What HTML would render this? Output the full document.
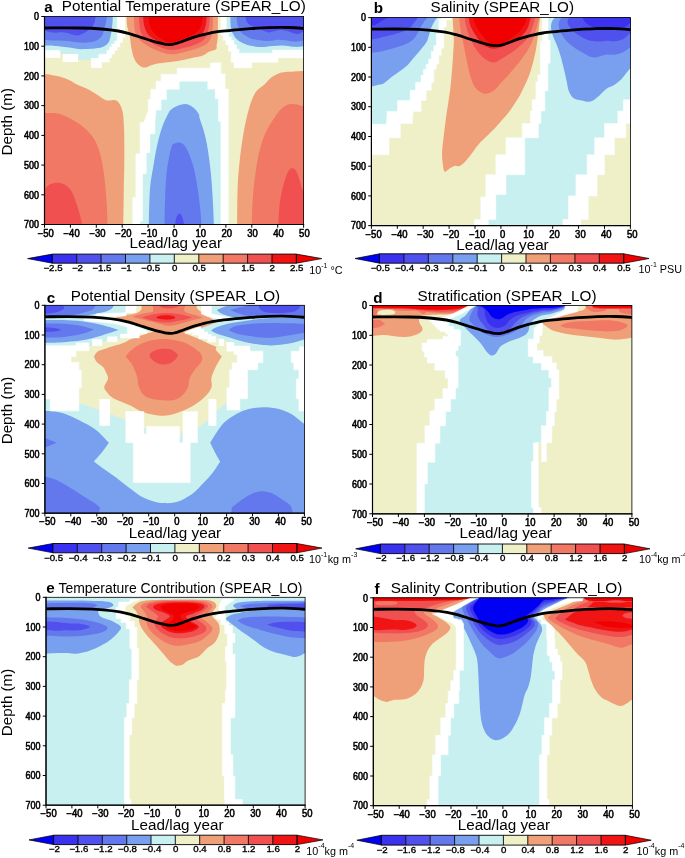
<!DOCTYPE html>
<html lang="en"><head><meta charset="utf-8"><title>SPEAR_LO lead/lag regressions</title>
<style>
html,body{margin:0;padding:0;background:#fff}
svg{display:block}
text{font-family:"Liberation Sans",Arial,Helvetica,sans-serif;fill:#000}
.tk{font-size:10px;stroke:#000;stroke-width:0.55px}
.ck{font-size:8.8px;stroke:#000;stroke-width:0.35px}
.tt{font-size:15.2px}
.lt{font-size:15.2px;font-weight:bold}
.un{font-size:10.8px}
.sup{font-size:7px}
</style></head><body>
<svg width="685" height="858" viewBox="0 0 685 858">
<rect width="685" height="858" fill="#fff"/>
<!-- panel a -->
<clipPath id="cpa"><rect x="44.5" y="16.5" width="259.1" height="208"/></clipPath>
<g clip-path="url(#cpa)" shape-rendering="geometricPrecision">
<rect x="44.5" y="16.5" width="259.1" height="208" fill="#f0f0c8"/>
<path fill="#f0a078" d="M42.7 74C43.1 74 43.2 73.9 44.6 74C46.1 74.2 48.9 74.4 51.5 74.9C54.1 75.4 57.4 75.9 60.3 76.8C63.3 77.6 66.4 78.7 69.1 79.9C71.8 81.2 74.6 83.2 76.6 84.3C78.7 85.4 79.8 85.7 81.7 86.6C83.5 87.4 85.4 88 87.9 89.3C90.5 90.6 94 92.7 96.7 94.4C99.5 96 102.2 98.3 104.3 99.4C106.4 100.4 107.6 100.5 109.3 100.6C111 100.7 112.8 99.8 114.3 100C115.8 100.2 116.9 100.7 118.1 101.9C119.2 103 120.4 104.8 121.2 106.9C122 109 122.7 111.6 123.1 114.4C123.5 117.3 123.6 119.7 123.8 123.8C124 127.8 124.3 132.1 124.3 138.8C124.4 145.4 124.4 155.4 124.3 163.7C124.3 172 124 178.5 123.8 188.7C123.7 198.8 123.4 216.8 123.3 224.3C123.3 231.8 123.3 232 123.3 233.6L41.5 233.6L42.7 74Z"/>
<path fill="#f07864" d="M41.5 113.1C42 113.1 41.8 112.9 44.7 113.1C47.7 113.2 54.3 112.6 59 113.8C63.7 115 68.8 117.8 72.9 120C77.1 122.3 80.4 124.4 83.9 127.5C87.4 130.6 91.2 134.4 93.9 138.8C96.6 143.1 98.5 147.9 100.1 153.7C101.8 159.5 102.8 166.2 103.9 173.7C104.9 181.2 105.8 190.2 106.4 198.6C107 207.1 107.4 218.5 107.6 224.3C107.8 230.2 107.6 232 107.6 233.6L41.5 233.6L41.5 113.1Z"/>
<path fill="#f05050" d="M41.5 188.7C42 188.7 43.3 189.4 44.7 188.7C46.2 187.9 48.1 185.2 50.2 184.2C52.4 183.2 55.2 182.5 57.7 182.7C60.2 182.8 62.9 183.5 65.2 184.9C67.5 186.3 69.6 188 71.4 191.1C73.3 194.3 75 199.5 76.4 203.6C77.9 207.8 79.3 212.6 80.2 216.1C81.1 219.5 81.6 221.4 81.9 224.3C82.2 227.2 81.9 232 81.9 233.6L41.5 233.6L41.5 188.7Z"/>
<path fill="#f0a078" d="M237.1 233.6C237.1 232 237 231.8 237.1 224.3C237.2 216.8 237.2 198.8 237.6 188.7C238 178.5 238.5 172 239.4 163.7C240.2 155.4 241.4 146.2 242.6 138.8C243.8 131.3 244.9 125 246.4 118.8C247.8 112.6 249.7 105.9 251.3 101.3C253 96.8 254.3 94 256.3 91.3C258.4 88.6 261.3 87.4 263.8 85.1C266.3 82.8 268.4 79.7 271.3 77.6C274.2 75.5 277.5 73.7 281.3 72.6C285 71.6 290.1 71.7 293.8 71.4C297.4 71.1 300.7 71 303.2 70.9C305.7 70.8 307.8 70.9 308.7 70.9L308.7 233.6L237.1 233.6Z"/>
<path fill="#f07864" d="M251.8 233.6C251.8 232 251.7 229.7 251.8 224.3C252 218.9 252.1 209.2 252.6 201.1C253.1 193.1 254 184.1 255.1 176.2C256.1 168.3 257.2 160.8 258.8 153.7C260.5 146.7 262.6 139.6 265.1 133.8C267.6 127.9 271.1 122.9 273.8 118.8C276.5 114.6 278.8 111.2 281.3 108.8C283.8 106.4 286.3 105.1 288.8 104.3C291.3 103.6 293.8 104 296.3 104.3C298.7 104.7 301.2 105.9 303.2 106.3C305.3 106.7 307.8 106.7 308.7 106.8L308.7 233.6L251.8 233.6Z"/>
<path fill="#f05050" d="M278.3 233.6C278.3 232 278 229.7 278.3 224.3C278.6 218.9 279.1 207.9 280 201.1C281 194.3 282.4 188.7 283.8 183.7C285.2 178.7 286.8 173.8 288.3 171.2C289.7 168.6 291.2 168.2 292.5 168.2C293.8 168.2 295 169 296.3 171.2C297.5 173.3 298.8 177.8 300 181.2C301.2 184.5 301.8 188.7 303.2 191.1C304.7 193.6 307.8 195.3 308.7 196.1L308.7 233.6L278.3 233.6Z"/>
<path fill="#f0a078" d="M126.5 14C126.5 14.4 126.4 14.2 126.5 16.3C126.6 18.4 126.7 23 127.2 26.6C127.8 30.2 129.4 34.7 130 37.9C130.6 41 130.5 42.5 131 45.4C131.5 48.3 132.3 52.6 133.1 55.4C134 58.3 134.9 60.5 136.3 62.3C137.6 64.2 139.6 65.9 141.3 66.7C143 67.6 144.8 67.6 146.3 67.4C147.9 67.1 148.8 66.1 150.7 65.5C152.6 64.8 154.8 64.1 157.6 63.6C160.4 63.1 164.3 62.8 167.7 62.3C171 61.9 174.6 61.6 177.7 61.1C180.8 60.6 183.6 59.8 186.5 59.2C189.4 58.6 192.6 57.9 195.3 57.3C198 56.7 200.5 56.4 202.8 55.4C205.1 54.5 206.9 52.7 209.1 51.7C211.3 50.6 214.7 50.3 216 49.2C217.3 48 216.4 46.4 216.6 44.8C216.9 43.3 217.3 42.7 217.5 39.7C217.8 36.7 217.9 30.7 217.9 26.8C218 22.9 217.9 18.5 217.9 16.3C217.9 14.2 217.9 14.4 217.9 14L126.5 14Z"/>
<path fill="#f07864" d="M134 14C134 14.4 134 14.2 134 16.3C134.1 18.4 134.1 23.6 134.4 26.6C134.7 29.5 134.9 32 135.6 34.1C136.4 36.2 137.4 37.5 138.8 39.1C140.1 40.7 141.7 42 143.8 43.5C145.9 45 148.6 46.5 151.3 47.9C154.1 49.3 157.4 50.7 160.1 51.7C162.9 52.7 165.2 53.5 167.7 53.9C170.2 54.3 172.5 54.4 175.2 54.2C177.9 53.9 181.1 53 184 52.3C186.9 51.6 190.1 50.6 192.8 49.8C195.5 48.9 198 48.2 200.3 47.3C202.6 46.3 204.9 45.5 206.6 44.1C208.3 42.8 209.4 41 210.4 39.1C211.3 37.2 211.8 35.3 212.2 32.8C212.7 30.3 212.8 26.8 212.9 24C213 21.3 212.9 17.9 212.9 16.3C212.9 14.6 212.9 14.4 212.9 14L134 14Z"/>
<path fill="#f05050" d="M139 14C139 14.4 139 14.6 139 16.3C139.1 17.9 139.1 21.5 139.4 24C139.7 26.6 139.9 29.4 140.7 31.6C141.4 33.8 142.5 35.7 143.8 37.2C145.2 38.8 146.9 39.7 148.8 41C150.7 42.2 152.8 43.6 155.1 44.8C157.4 45.9 160.1 47.1 162.6 47.9C165.2 48.7 167.7 49.5 170.2 49.8C172.7 50.1 175.2 49.9 177.7 49.5C180.2 49.2 182.7 48.3 185.2 47.6C187.8 47 190.3 46.3 192.8 45.4C195.3 44.5 198.2 43.5 200.3 42.2C202.4 41 204.1 39.6 205.3 37.9C206.6 36.1 207.2 33.9 207.8 31.6C208.5 29.3 209 26.6 209.3 24C209.7 21.5 209.7 17.9 209.7 16.3C209.8 14.6 209.7 14.4 209.7 14L139 14Z"/>
<path fill="#f01414" d="M143.2 14C143.2 14.4 143.1 14.6 143.2 16.3C143.3 17.9 143.4 21.7 143.8 24C144.2 26.4 144.9 28.4 145.7 30.3C146.5 32.2 147.5 33.9 148.8 35.3C150.2 36.8 152 38 153.9 39.1C155.7 40.3 157.8 41.3 160.1 42.2C162.4 43.1 165.6 44.1 167.7 44.5C169.8 44.9 170.6 44.9 172.7 44.8C174.8 44.6 177.7 44.1 180.2 43.5C182.7 42.9 185.2 41.9 187.8 41C190.3 40.1 193 39 195.3 37.9C197.6 36.7 200 35.6 201.6 34.1C203.1 32.6 203.9 31.2 204.7 29.1C205.5 27 206 23.7 206.3 21.5C206.6 19.4 206.5 17.5 206.6 16.3C206.6 15 206.6 14.4 206.6 14L143.2 14Z"/>
<path fill="#f00000" d="M148.8 14C148.8 14.4 148.8 15 148.8 16.3C148.9 17.5 148.8 19.6 149.1 21.5C149.4 23.5 149.9 25.9 150.7 27.8C151.5 29.7 152.5 31.3 153.9 32.8C155.2 34.4 157 35.9 158.9 37.2C160.8 38.6 163.3 40.1 165.2 41C167 41.9 168.5 42.5 170.2 42.6C171.8 42.8 173.1 42.5 175.2 41.9C177.3 41.3 180.2 40.1 182.7 39.1C185.2 38.1 188 37.1 190.3 36C192.6 34.8 194.9 33.6 196.5 32.2C198.2 30.8 199.4 29.6 200.3 27.8C201.2 26 201.8 23.5 202.2 21.5C202.6 19.6 202.7 17.5 202.8 16.3C202.9 15 202.8 14.4 202.8 14L148.8 14Z"/>
<path fill="#c8f0f0" d="M42.7 14L119.3 14L119.3 42.9L111.8 51.7L106.8 56.7L99.2 59.8L78.1 59.8L78.1 57.9L62.8 55.4L60.1 51.7L42.7 50.4Z"/>
<path fill="#78a0ee" d="M42.7 14L112.8 14C112.8 14.4 112.9 14.6 112.8 16.3C112.7 17.9 112.7 21.3 112.4 24C112.2 26.8 111.7 30 111.2 32.8C110.6 35.7 110.2 38.9 109.3 41C108.3 43.1 107.4 44.2 105.5 45.4C103.6 46.6 102 47.5 98 48.1C94 48.8 86.5 49.2 81.7 49.2C76.9 49.1 73.3 48.2 69.1 47.6C64.9 47.1 60.6 46.4 56.6 46C52.5 45.6 46.9 45.5 44.6 45.4C42.3 45.3 43.1 45.4 42.7 45.4L42.7 14Z"/>
<path fill="#6478ee" d="M42.7 14L106.8 14C106.8 14.4 106.9 15 106.8 16.3C106.7 17.5 106.6 19.4 106.1 21.5C105.7 23.7 104.9 26.8 104.3 29.1C103.6 31.4 103.4 33.6 102.4 35.3C101.3 37.1 99.8 38.6 98 39.7C96.2 40.8 94.8 41.4 91.7 41.9C88.6 42.4 83.3 42.8 79.2 42.6C75 42.5 70.8 41.3 66.6 41C62.4 40.7 57.7 40.8 54 40.6C50.4 40.5 46.5 40.2 44.6 40.1C42.7 40 43.1 40.1 42.7 40.1L42.7 14Z"/>
<path fill="#5050ee" d="M42.7 14L95.5 14C95.5 14.4 95.6 15 95.5 16.3C95.4 17.5 95.4 19.8 94.8 21.5C94.3 23.2 93.7 24.9 92.3 26.6C91 28.2 88.7 30.2 86.7 31.6C84.7 32.9 82.3 34.1 80.4 34.7C78.5 35.3 77.3 35.6 75.4 35.3C73.5 35.1 71.2 34 69.1 33.5C67 32.9 65.3 32.3 62.8 32.2C60.3 32.1 56.6 32.9 54 32.8C51.5 32.7 49.3 32 47.8 31.6C46.2 31.2 45.5 30.5 44.6 30.3C43.8 30.1 43.1 30.3 42.7 30.3L42.7 14Z"/>
<path fill="#ffffff" d="M44 50.2H60.1V57.7H44ZM62.8 53.9H78.1V62H62.8ZM91.1 57.9H101.4V67.7H91.1Z"/>
<path fill="#ffffff" stroke="#fff" stroke-width="0.5" d="M125 14L125 37.2L122.5 37.2L122.5 42.2L120 42.2L120 46.9L117.2 46.9L117.2 50.4L114.6 50.4L114.6 53.9L111.8 53.9L111.8 57.9L109.3 57.9L109.3 62L101.4 62L101.4 67.7L98.9 67.7L98.9 54.2L106.8 54.2L106.8 50.4L109.3 50.4L109.3 46.9L111.8 46.9L111.8 43.9L114.6 43.9L114.6 41L117.2 41L117.2 14Z"/>
<path fill="#c8f0f0" d="M226.3 14L305.9 14L305.9 51.3L272.5 51.3L272.5 53.8L239.1 53.8L236.6 50L234 45.5L231.2 41L228.6 37.8L226.3 33.3Z"/>
<path fill="#78a0ee" d="M230.4 14C230.4 14.4 230.3 14.2 230.4 16.3C230.5 18.5 230.4 24 230.8 26.8C231.2 29.7 231.7 31.2 232.7 33.3C233.7 35.3 234.8 37.4 236.6 39.1C238.3 40.7 240.4 42.1 243 43.3C245.5 44.5 248.8 45.5 252 46.1C255.2 46.8 258.8 47.1 262.2 47.1C265.7 47.1 269.1 46.4 272.5 46.1C276 45.8 279.4 45.4 282.8 45.5C286.2 45.6 290.3 46.5 293.1 46.8C295.9 47 297.4 47 299.5 46.8C301.6 46.5 304.9 45.7 305.9 45.5L305.9 14L230.4 14Z"/>
<path fill="#6478ee" d="M236.6 14C236.6 14.4 236.4 14.8 236.6 16.3C236.7 17.8 236.8 20.8 237.2 23C237.6 25.2 238.1 27.5 239.1 29.4C240.2 31.3 241.7 33.1 243.6 34.6C245.5 36.1 248 37.4 250.7 38.4C253.4 39.4 256.7 39.9 259.7 40.3C262.7 40.8 265.7 41.1 268.7 41C271.7 40.9 274.9 39.8 277.7 39.7C280.4 39.6 282.8 40 285.4 40.3C287.9 40.7 290.7 41.5 293.1 41.6C295.4 41.8 297.4 41.6 299.5 41.2C301.6 40.9 304.9 40 305.9 39.7L305.9 14L236.6 14Z"/>
<path fill="#5050ee" d="M245.5 14C245.5 14.4 245.4 15.2 245.5 16.3C245.7 17.4 245.7 19.1 246.2 20.4C246.7 21.8 247.6 23.2 248.8 24.3C249.9 25.3 251.7 26.2 253.3 26.8C254.9 27.5 256.7 27.5 258.4 28.1C260.1 28.8 261.8 30 263.5 30.7C265.2 31.4 267 32.3 268.7 32.4C270.4 32.5 271.9 31.7 273.8 31.3C275.7 31 277.9 30.1 280.2 30.1C282.6 30.1 285.8 30.8 287.9 31.3C290.1 31.9 291.4 32.8 293.1 33.3C294.8 33.7 296.6 34.1 298.2 33.9C299.8 33.7 301.4 32.7 302.7 32C304 31.2 305.4 29.8 305.9 29.4L305.9 14L245.5 14Z"/>
<path fill="#ffffff" stroke="#fff" stroke-width="0.5" d="M220.9 14L220.9 35.2L223.1 35.2L223.1 40.3L226 40.3L226 44.8L228.6 44.8L228.6 51.3L231.2 51.3L231.2 62.2L234 62.2L234 67.7L251.7 67.7L251.7 62.2L277.9 62.2L277.9 57.7L305.9 57.7L305.9 50L272.5 50L272.5 53.2L239.1 53.2L239.1 49.3L236.6 49.3L236.6 44.8L234 44.8L234 40.3L231.2 40.3L231.2 37.1L228.6 37.1L228.6 33.3L226.3 33.3L226.3 14Z"/>
<path fill="#c8f0f0" d="M132.6 233.6L132.6 197.4L135.8 197.4L135.8 153.7L140.1 153.7L140.1 122.5L143.8 122.5L148.2 110.4L148.2 99.4L150.7 99.4L150.7 89.3L156.1 89.3L156.1 81.2L161.1 81.2L161.1 74.3L177.1 74.3L177.1 68.2L210.4 68.2L210.4 63L220.9 62.7L220.9 73.9L225.1 73.9L225.1 88.9L228.4 88.9L228.4 233.6Z"/>
<path fill="#ffffff" stroke="#fff" stroke-width="0.5" d="M132.6 233.6L132.6 197.4L135.8 197.4L135.8 153.7L140.1 153.7L140.1 122.5L143.8 122.5L148.2 110.4L148.2 99.4L150.7 99.4L150.7 89.3L156.1 89.3L156.1 81.2L161.1 81.2L161.1 74.3L177.1 74.3L177.1 68.2L210.4 68.2L210.4 63L220.9 62.7L220.9 73.9L225.1 73.9L225.1 88.9L228.4 88.9L228.4 233.6L220.9 233.6L220.9 121.3L218.4 121.3L218.4 98.8L215.2 98.8L215.2 88.9L207.8 89.3L207.8 81.2L179.2 81.2L179.2 89.3L166.4 89.3L166.4 99.4L161.1 99.4L161.1 110L156.1 110L155 121.3L155 133.8L150 133.8L150 152.5L146.3 152.5L146.3 173.7L142.6 173.7L142.6 221.1L140.1 221.1L140.1 233.6Z"/>
<path fill="#78a0ee" d="M148.8 233.6C148.8 232 148.6 231.8 148.8 224.3C149 216.8 149.2 198.8 150 188.7C150.9 178.5 152.5 171.2 153.8 163.7C155 156.2 156.1 150 157.5 143.7C159 137.5 160.6 131.5 162.5 126.3C164.4 121.1 167.3 115.4 168.8 112.6C170.2 109.7 170.1 110.5 171.4 109.4C172.7 108.4 174.2 107.2 176.5 106.3C178.8 105.4 182.7 104.1 185.2 104.1C187.8 104.1 189.6 105.2 191.5 106.3C193.4 107.4 195.1 108.9 196.5 110.7C198 112.5 199.9 116 200.3 117C200.7 117.9 198.3 113.9 199 116.3C199.6 118.7 202.5 125.9 203.9 131.3C205.4 136.7 206.5 141.7 207.7 148.7C208.8 155.8 210.1 165.4 210.9 173.7C211.8 182 212.2 190.2 212.7 198.6C213.2 207.1 213.7 218.5 213.9 224.3C214.1 230.2 213.9 232 213.9 233.6L148.8 233.6Z"/>
<path fill="#6478ee" d="M164.5 233.6C164.5 232 164.4 229.7 164.5 224.3C164.6 218.9 164.7 209.2 165 201.1C165.3 193.1 165.6 183.2 166.3 176.2C166.9 169.1 167.8 163.7 168.8 158.7C169.7 153.7 170.9 148.7 171.7 146.2C172.6 143.7 172.8 144.4 174 143.7C175.2 143.1 177.3 142.3 179 142.5C180.7 142.7 182.3 143.1 184 145C185.6 146.9 187.3 149.8 189 153.7C190.6 157.7 192.5 162.9 194 168.7C195.4 174.5 196.7 182 197.7 188.7C198.7 195.3 199.6 202.7 200.2 208.6C200.8 214.6 201.2 220.2 201.4 224.3C201.7 228.5 201.4 232 201.4 233.6L164.5 233.6Z"/>
<path fill="#5050ee" d="M174.7 233.6C174.8 232 175 227 175.2 224.3C175.5 221.6 175.8 219.1 176.5 217.3C177.2 215.6 178.6 213.7 179.5 213.6C180.4 213.5 181.2 214.8 182 216.6C182.7 218.4 183.6 221.5 184 224.3C184.4 227.2 184.4 232 184.5 233.6L174.7 233.6Z"/>
<path fill="none" stroke="#000" stroke-width="2.8" stroke-linecap="butt" d="M41.9 28C48.4 28 70.8 27.8 80.8 28C90.7 28.2 95.2 28.5 101.5 29C107.8 29.5 113.6 30.2 118.3 31C123.1 31.8 126 32.7 130 33.8C134 34.9 138.4 36.5 142.6 37.9C146.8 39.2 151.8 40.8 155.1 41.8C158.5 42.8 160.7 43.2 162.6 43.6C164.6 44.1 165.5 44.2 166.8 44.4C168 44.5 169 44.6 170.2 44.5C171.3 44.5 172.3 44.5 173.5 44.2C174.8 43.9 176.1 43.5 177.7 43C179.2 42.5 180.2 42.1 182.7 41.2C185.2 40.3 188.9 38.8 192.7 37.6C196.5 36.4 201.5 35 205.4 34.1C209.3 33.2 211.7 32.6 216 31.9C220.3 31.3 225.4 30.9 231.1 30.3C236.7 29.7 243.7 29.1 250 28.6C256.3 28.2 262.5 27.8 268.9 27.6C275.2 27.4 281.8 27.3 288.1 27.5C294.3 27.7 303.2 28.5 306.2 28.7"/>
</g>
<rect x="44.5" y="16.5" width="259.1" height="208" fill="none" stroke="#000" stroke-width="0.8"/>
<path d="M44.5 16.5V224.5H303.6" fill="none" stroke="#000" stroke-width="1.2" stroke-linecap="square"/>
<path d="M44.5 224.5v3.2M70.4 224.5v3.2M96.3 224.5v3.2M122.2 224.5v3.2M148.1 224.5v3.2M174.1 224.5v3.2M200 224.5v3.2M225.9 224.5v3.2M251.8 224.5v3.2M277.7 224.5v3.2M303.6 224.5v3.2M44.5 16.5h-3.2M44.5 46.2h-3.2M44.5 75.9h-3.2M44.5 105.6h-3.2M44.5 135.4h-3.2M44.5 165.1h-3.2M44.5 194.8h-3.2M44.5 224.5h-3.2" stroke="#000" stroke-width="1" fill="none"/>
<text class="tk" transform="translate(45.7 236.7) scale(0.95 1)" text-anchor="middle">−50</text>
<text class="tk" transform="translate(71.6 236.7) scale(0.95 1)" text-anchor="middle">−40</text>
<text class="tk" transform="translate(97.5 236.7) scale(0.95 1)" text-anchor="middle">−30</text>
<text class="tk" transform="translate(123.4 236.7) scale(0.95 1)" text-anchor="middle">−20</text>
<text class="tk" transform="translate(149.3 236.7) scale(0.95 1)" text-anchor="middle">−10</text>
<text class="tk" transform="translate(174.8 236.7) scale(0.95 1)" text-anchor="middle">0</text>
<text class="tk" transform="translate(200.8 236.7) scale(0.95 1)" text-anchor="middle">10</text>
<text class="tk" transform="translate(226.7 236.7) scale(0.95 1)" text-anchor="middle">20</text>
<text class="tk" transform="translate(252.6 236.7) scale(0.95 1)" text-anchor="middle">30</text>
<text class="tk" transform="translate(278.5 236.7) scale(0.95 1)" text-anchor="middle">40</text>
<text class="tk" transform="translate(304.4 236.7) scale(0.95 1)" text-anchor="middle">50</text>
<text class="tk" transform="translate(39.1 20.2) scale(0.9 1)" text-anchor="end">0</text>
<text class="tk" transform="translate(39.1 49.9) scale(0.9 1)" text-anchor="end">100</text>
<text class="tk" transform="translate(39.1 79.6) scale(0.9 1)" text-anchor="end">200</text>
<text class="tk" transform="translate(39.1 109.3) scale(0.9 1)" text-anchor="end">300</text>
<text class="tk" transform="translate(39.1 139.1) scale(0.9 1)" text-anchor="end">400</text>
<text class="tk" transform="translate(39.1 168.8) scale(0.9 1)" text-anchor="end">500</text>
<text class="tk" transform="translate(39.1 198.5) scale(0.9 1)" text-anchor="end">600</text>
<text class="tk" transform="translate(39.1 228.2) scale(0.9 1)" text-anchor="end">700</text>
<text class="lt" x="44.3" y="11.5">a</text>
<text class="tt" x="61.8" y="11.2" textLength="244" lengthAdjust="spacingAndGlyphs">Potential Temperature (SPEAR_LO)</text>
<text class="tt" x="129.6" y="248.4" textLength="92.4" lengthAdjust="spacingAndGlyphs">Lead/lag year</text>
<text class="tt" transform="translate(12.3 121.8) rotate(-90)" x="-33.7" y="0" textLength="67.5" lengthAdjust="spacingAndGlyphs">Depth (m)</text>
<path d="M27.6 258.6L52.3 254.1V263.2Z" fill="#0000f2" stroke="#000" stroke-opacity="0.9" stroke-width="0.8" stroke-linejoin="miter"/>
<rect x="52.3" y="254.1" width="24.4" height="9.1" fill="#3a32ee"/>
<rect x="76.7" y="254.1" width="24.4" height="9.1" fill="#5050ee"/>
<rect x="101.1" y="254.1" width="24.4" height="9.1" fill="#6478ee"/>
<rect x="125.5" y="254.1" width="24.4" height="9.1" fill="#78a0ee"/>
<rect x="149.9" y="254.1" width="24.4" height="9.1" fill="#c8f0f0"/>
<rect x="174.3" y="254.1" width="24.4" height="9.1" fill="#f0f0c8"/>
<rect x="198.8" y="254.1" width="24.4" height="9.1" fill="#f0a078"/>
<rect x="223.2" y="254.1" width="24.4" height="9.1" fill="#f07864"/>
<rect x="247.6" y="254.1" width="24.4" height="9.1" fill="#f05050"/>
<rect x="272" y="254.1" width="24.4" height="9.1" fill="#f01414"/>
<path d="M321.8 258.6L296.4 254.1V263.2Z" fill="#f00000" stroke="#000" stroke-opacity="0.9" stroke-width="0.8" stroke-linejoin="miter"/>
<path d="M52.3 254.1H296.4M52.3 263.2H296.4M52.3 254.1V263.2M76.7 254.1V263.2M101.1 254.1V263.2M125.5 254.1V263.2M149.9 254.1V263.2M174.3 254.1V263.2M198.8 254.1V263.2M223.2 254.1V263.2M247.6 254.1V263.2M272 254.1V263.2M296.4 254.1V263.2" stroke="#000" stroke-width="0.9" fill="none"/>
<text class="ck" transform="translate(53 271) scale(1.1 1)" text-anchor="middle">−2.5</text>
<text class="ck" transform="translate(77.4 271) scale(1.1 1)" text-anchor="middle">−2</text>
<text class="ck" transform="translate(101.8 271) scale(1.1 1)" text-anchor="middle">−1.5</text>
<text class="ck" transform="translate(126.2 271) scale(1.1 1)" text-anchor="middle">−1</text>
<text class="ck" transform="translate(150.6 271) scale(1.1 1)" text-anchor="middle">−0.5</text>
<text class="ck" transform="translate(174.7 271) scale(1.1 1)" text-anchor="middle">0</text>
<text class="ck" transform="translate(199.1 271) scale(1.1 1)" text-anchor="middle">0.5</text>
<text class="ck" transform="translate(223.5 271) scale(1.1 1)" text-anchor="middle">1</text>
<text class="ck" transform="translate(247.9 271) scale(1.1 1)" text-anchor="middle">1.5</text>
<text class="ck" transform="translate(272.3 271) scale(1.1 1)" text-anchor="middle">2</text>
<text class="ck" transform="translate(296.7 271) scale(1.1 1)" text-anchor="middle">2.5</text>
<text class="un" x="309.2" y="274">10<tspan class="sup" dy="-6.3">-1</tspan><tspan dy="6.3"> °C</tspan></text>
<!-- panel b -->
<clipPath id="cpb"><rect x="371.4" y="17.6" width="259" height="208"/></clipPath>
<g clip-path="url(#cpb)" shape-rendering="geometricPrecision">
<rect x="371.4" y="17.6" width="259" height="208" fill="#f0f0c8"/>
<path fill="#c8f0f0" d="M369.7 15L451.4 15L451.4 20L446.3 20L446.3 26.9L443.8 26.9L443.8 48.3L441.3 48.3L441.3 55.2L438.8 55.2L438.8 64L436.3 64L436.3 69.2L433.8 69.2L433.8 82.2L431.3 82.2L431.3 90.3L426.2 90.3L426.2 100.4L421 100.4L421 111.4L413.1 111.4L412.2 123.5L400.4 123.5L400.4 137.8L389 137.8L389 154.7L368.5 154.7Z"/>
<path fill="#c8f0f0" d="M542.2 15L542.2 15L542.2 41.2L540.4 41.2L540.4 74.9L537.9 74.9L537.9 81.9L535.9 81.9L535.9 99.8L532.2 99.8L532.2 111.1L530.4 111.1L530.4 123.5L522.2 123.5L522.2 137.8L506 137.8L506 154.7L495.8 154.7L495.8 174.7L485.8 174.7L485.8 197.1L480.8 197.1L480.8 219.6L474.5 219.6L474.5 234.6L580.8 234.6L580.8 219.6L588.3 219.6L588.3 195.9L597.1 195.9L597.1 174.7L604.5 174.7L604.5 154.7L614.5 154.7L614.5 137.8L625.8 137.8L625.8 123.5L635.7 123.5L635.7 15Z"/>
<path fill="#78a0ee" d="M369.7 15L437.5 15C437.5 15.4 438 16.3 437.5 17.3C437.1 18.2 436 19.1 435 20.6C434.1 22.2 432.8 24.1 431.9 26.3C430.9 28.5 430.2 31.3 429.4 33.8C428.5 36.3 428.2 38.9 426.9 41.4C425.5 43.9 423.4 46.2 421.2 48.9C419 51.6 416 55 413.7 57.7C411.4 60.4 409.9 62.8 407.4 65.2C404.9 67.6 401.6 69.9 398.6 72.1C395.7 74.3 392.3 76.5 389.8 78.4C387.3 80.3 385.4 82.4 383.6 83.4C381.7 84.5 380.5 84.2 378.5 84.7C376.5 85.2 373.1 86.2 371.6 86.6C370.2 86.9 370.1 86.8 369.7 86.8L369.7 15Z"/>
<path fill="#6478ee" d="M369.7 15L428.1 15C428.1 15.4 428.6 16.3 428.1 17.3C427.6 18.2 426.1 19.1 425 20.6C423.8 22.2 422.4 24.3 421.2 26.3C420.1 28.3 419.1 30.7 418.1 32.6C417 34.5 416.3 36 414.9 37.6C413.6 39.2 412.2 40.6 409.9 42C407.6 43.4 404.3 44.6 401.1 45.8C398 46.9 394.4 48 391.1 48.9C387.7 49.8 384.3 50.8 381 51.4C377.8 52 373.5 52.5 371.6 52.7C369.7 52.9 370.1 52.7 369.7 52.7L369.7 15Z"/>
<path fill="#5050ee" d="M369.7 15L418.1 15C418.1 15.4 418.7 16 418.1 17.3C417.5 18.5 415.7 20.8 414.3 22.5C413 24.2 411.7 26.1 409.9 27.6C408.1 29 405.9 30.3 403.6 31.3C401.3 32.4 399 33 396.1 33.8C393.2 34.7 389 35.6 386.1 36.3C383.1 37.1 380.9 37.7 378.5 38.2C376.1 38.7 373.1 39.3 371.6 39.5C370.2 39.7 370.1 39.5 369.7 39.5L369.7 15Z"/>
<path fill="#3a32ee" d="M369.7 15L389.8 15C389.8 15.4 390.5 16.6 389.8 17.3C389.2 17.9 387.5 18.1 386.1 18.8C384.6 19.4 382.7 20.3 381 21.3C379.4 22.2 377.6 23.7 376 24.4C374.5 25.1 372.7 25.1 371.6 25.3C370.6 25.4 370.1 25.3 369.7 25.3L369.7 15Z"/>
<path fill="#78a0ee" d="M555.2 15C555.2 15.4 555.7 16.2 555.2 17.3C554.7 18.4 552.7 19.7 552 21.4C551.3 23.2 550.8 25.3 551 27.8C551.2 30.4 552.2 33.8 553.3 36.8C554.3 39.8 555.8 42.4 557.1 45.8C558.4 49.3 559.8 53.3 561 57.4C562.2 61.5 563.2 66.2 564.2 70.2C565.2 74.3 566 78.4 566.8 81.8C567.5 85.2 567.7 88.2 568.7 90.8C569.7 93.4 571 95.7 572.5 97.2C574 98.7 576 99.2 577.7 99.8C579.4 100.4 581.1 100.5 582.8 100.8C584.5 101.2 586.3 101.9 588 101.8C589.7 101.8 591.4 101.3 593.1 100.4C594.8 99.6 596.5 98.1 598.2 96.6C600 95.1 601.7 92.9 603.4 91.4C605.1 89.9 606.6 88.8 608.5 87.6C610.4 86.4 612.8 85.8 614.9 84.4C617.1 83 619.4 81.2 621.4 79.2C623.3 77.3 625 74.6 626.5 72.8C628 71 629.3 69.5 630.4 68.3C631.4 67.1 632.5 66.2 632.9 65.7L632.9 15L555.2 15Z"/>
<path fill="#6478ee" d="M562.3 15C562.3 15.4 562.8 16.2 562.3 17.3C561.7 18.4 559.6 19.7 559.1 21.4C558.5 23.2 558.5 25.5 559.1 27.8C559.6 30.2 560.7 33 562.3 35.6C563.9 38.1 566.3 41 568.7 43.3C571 45.5 573.8 47.3 576.4 49C579 50.8 581.8 52.3 584.1 53.5C586.5 54.8 588.6 56.1 590.5 56.8C592.5 57.4 594 57.5 595.7 57.4C597.4 57.3 598.9 56.6 600.8 56.1C602.7 55.6 605.1 54.8 607.2 54.6C609.4 54.4 611.5 55 613.7 54.8C615.8 54.7 618.2 54.2 620.1 53.5C622 52.9 623.5 52 625.2 51C626.9 49.9 629.1 48.1 630.4 47.1C631.6 46.2 632.5 45.5 632.9 45.2L632.9 15L562.3 15Z"/>
<path fill="#5050ee" d="M569.3 15C569.3 15.4 569.7 16.2 569.3 17.3C569 18.4 567.4 19.9 567.4 21.4C567.4 23 568.3 24.8 569.3 26.6C570.4 28.3 572 30.1 573.8 31.7C575.7 33.3 578.1 34.9 580.3 36.2C582.4 37.5 584.3 38.6 586.7 39.4C589 40.3 591.8 41 594.4 41.3C597 41.7 600 41.4 602.1 41.3C604.2 41.2 605.5 40.7 607.2 40.7C608.9 40.7 610.4 41.3 612.4 41.3C614.3 41.3 616.9 41.1 618.8 40.7C620.7 40.3 622.4 39.6 623.9 38.8C625.4 37.9 626.7 36.5 627.8 35.6C628.9 34.6 629.5 33.8 630.4 33C631.2 32.1 632.5 30.8 632.9 30.4L632.9 15L569.3 15Z"/>
<path fill="#3a32ee" d="M582.8 15C582.8 15.4 582.6 16.3 582.8 17.3C583 18.3 583.4 19.7 584.1 20.8C584.9 21.9 586 23 587.3 24C588.6 25 590.2 25.9 591.8 26.6C593.4 27.2 594.4 27.7 597 28.1C599.5 28.5 603.4 28.9 607.2 28.9C611.1 28.9 616.9 28.6 620.1 28.1C623.3 27.6 624.8 26.8 626.5 25.9C628.2 25 629.3 23.7 630.4 22.7C631.4 21.7 632.5 20.6 632.9 20.1L632.9 15L582.8 15Z"/>
<path fill="#f0a078" d="M452.6 15C452.6 15.4 452.5 15.2 452.6 17.3C452.7 19.4 453 23.7 453.2 27.6C453.4 31.4 453.9 35.9 453.9 40.1C453.9 44.3 453.5 48.5 453.2 52.7C453 56.8 452.7 61 452.4 65.2C452 69.4 451.7 73.6 451.4 77.8C451 82 450.6 86.1 450.1 90.3C449.6 94.5 448.8 98.7 448.2 102.9C447.6 107.1 447.1 110.1 446.3 115.4C445.6 120.8 444.6 128.6 443.9 134.8C443.2 140.9 442.3 147.2 442.1 152.2C441.9 157.2 442.4 161.5 442.9 164.7C443.3 167.9 443.5 171.1 444.6 171.7C445.7 172.3 447.9 169.4 449.6 168.4C451.3 167.5 452.9 166.4 454.6 165.9C456.2 165.5 457.9 166.6 459.6 165.9C461.2 165.3 462.7 164.1 464.6 162.2C466.4 160.3 468.5 157.6 470.8 154.7C473.1 151.8 475.4 148.1 478.3 144.7C481.2 141.4 485.4 137.7 488.3 134.8C491.2 131.8 493.7 129.4 495.8 127.3C497.8 125.1 498.4 124.1 500.3 122C502.2 119.8 505 116.9 507.2 114.2C509.4 111.4 511.4 108.5 513.5 105.4C515.6 102.3 517.9 98.7 519.8 95.4C521.7 92 523.2 88.7 524.8 85.3C526.4 82 527.9 78.6 529.2 75.3C530.4 71.9 531.4 68.6 532.3 65.2C533.3 61.9 534.1 58.5 534.8 55.2C535.6 51.8 536.2 48.5 536.7 45.1C537.2 41.8 537.6 38.4 538 35.1C538.4 31.7 538.9 28 539.2 25C539.6 22.1 540 18.9 540.1 17.3C540.3 15.6 540.1 15.4 540.1 15L452.6 15Z"/>
<path fill="#f07864" d="M459.3 15C459.3 15.4 459.1 15.2 459.3 17.3C459.4 19.4 459.6 23.7 460.1 27.6C460.7 31.4 461.8 35.9 462.6 40.1C463.5 44.3 464.3 48.5 465.2 52.7C466 56.8 466.7 61 467.7 65.2C468.6 69.4 469.7 74.2 470.8 77.8C472 81.3 473.1 84.3 474.6 86.6C476 88.9 477.8 90.4 479.6 91.6C481.4 92.8 483.4 93.7 485.2 93.8C487.1 93.9 489.1 93 490.9 92.2C492.7 91.4 494.2 90.6 495.9 89.1C497.6 87.5 499.1 84.9 500.9 82.8C502.8 80.7 505.1 78.8 507.2 76.5C509.3 74.2 511.4 71.5 513.5 69C515.6 66.5 517.7 64.2 519.8 61.5C521.9 58.7 524.2 55.6 526.1 52.7C527.9 49.7 529.6 47 531.1 43.9C532.5 40.7 533.8 37 534.8 33.8C535.9 30.7 536.6 27.8 537.4 25C538.1 22.3 538.9 18.9 539.2 17.3C539.5 15.6 539.2 15.4 539.2 15L459.3 15Z"/>
<path fill="#f05050" d="M464.8 15C464.8 15.4 464.6 15.6 464.8 17.3C465 18.9 465.2 22.3 465.8 25C466.4 27.8 467.3 30.9 468.3 33.8C469.3 36.8 470.6 39.8 472.1 42.6C473.5 45.4 475.4 48.5 477.1 50.8C478.8 53.1 480.4 54.9 482.1 56.4C483.8 58 485.4 59.2 487.1 60.2C488.9 61.2 491.1 62.2 492.8 62.5C494.5 62.7 495.6 62.1 497.2 61.5C498.7 60.8 500.3 59.5 502.2 58.3C504.1 57.2 506.4 55.9 508.5 54.5C510.6 53.2 512.7 51.7 514.8 50.2C516.8 48.6 519.1 46.8 521 45.1C522.9 43.5 524.6 42 526.1 40.1C527.5 38.2 528.8 35.9 529.8 33.8C530.9 31.7 531.6 29.6 532.3 27.6C533.1 25.5 533.7 23 534.2 21.3C534.7 19.6 535.3 18.3 535.5 17.3C535.7 16.2 535.5 15.4 535.5 15L464.8 15Z"/>
<path fill="#f01414" d="M468.9 15C468.9 15.4 468.7 15.6 468.9 17.3C469.1 18.9 469.3 22.5 470.2 25C471 27.6 472.5 30.1 473.9 32.6C475.4 35.1 477.2 37.9 479 40.1C480.7 42.3 482.8 44.5 484.6 45.8C486.4 47.1 488 47.4 489.6 47.9C491.3 48.4 492.8 48.8 494.7 48.6C496.5 48.5 498.8 47.7 500.9 47C503 46.3 505.1 45.4 507.2 44.5C509.3 43.6 511.4 42.5 513.5 41.4C515.6 40.2 517.9 39.1 519.8 37.6C521.7 36.1 523.4 34.3 524.8 32.6C526.2 30.9 527.1 29.4 527.9 27.6C528.8 25.7 529.3 23 529.8 21.3C530.3 19.6 530.9 18.3 531.1 17.3C531.3 16.2 531.1 15.4 531.1 15L468.9 15Z"/>
<path fill="#f00000" d="M473.3 15C473.3 15.4 473.1 16 473.3 17.3C473.5 18.5 473.8 20.6 474.6 22.5C475.3 24.5 476.5 26.7 477.7 28.8C479 30.9 480.5 33.1 482.1 35.1C483.7 37.1 485.5 39.3 487.1 40.7C488.8 42.2 490.5 43.2 492.2 43.9C493.8 44.6 495.5 45 497.2 44.9C498.8 44.8 500.3 44 502.2 43.2C504.1 42.5 506.4 41.4 508.5 40.1C510.6 38.9 512.9 37.2 514.8 35.7C516.6 34.3 518.3 32.9 519.8 31.3C521.2 29.8 522.5 28 523.5 26.3C524.5 24.6 525.3 22.8 525.8 21.3C526.3 19.8 526.5 18.3 526.7 17.3C526.8 16.2 526.7 15.4 526.7 15L473.3 15Z"/>
<path fill="#ffffff" stroke="#fff" stroke-width="0.5" d="M368.5 124.3L386.5 124.3L387.1 111.4L397.4 111.4L397.4 100.4L410.2 100.4L410.2 90.3L415.6 90.3L415.6 82.2L421 82.2L421 75.3L423.5 75.3L423.5 69.2L426.2 69.2L426.2 64L428.8 64L428.8 58.9L431.3 58.9L431.3 51.4L433.8 51.4L433.8 45.8L436.3 45.8L436.3 33.8L438.8 33.8L438.8 19.4L441.3 19.4L441.3 15L451.4 15L451.4 20L446.3 20L446.3 26.9L443.8 26.9L443.8 48.3L441.3 48.3L441.3 55.2L438.8 55.2L438.8 64L436.3 64L436.3 69.2L433.8 69.2L433.8 82.2L431.3 82.2L431.3 90.3L426.2 90.3L426.2 100.4L421 100.4L421 111.4L413.1 111.4L412.2 123.5L400.4 123.5L400.4 137.8L389 137.8L389 154.7L368.5 154.7Z"/>
<path fill="#ffffff" stroke="#fff" stroke-width="0.5" d="M548.1 15L548.1 40.1L550.1 40.1L550.1 63.2L547.9 63.2L547.9 90.8L544.9 90.8L544.9 110.7L540.9 111.1L540.9 123.5L538.4 123.5L538.4 137.8L524.7 137.8L524.7 174.7L506 174.7L506 194.6L495.8 194.6L495.8 219.6L488.3 219.6L488.3 234.6L474.5 234.6L474.5 219.6L480.8 219.6L480.8 197.1L485.8 197.1L485.8 174.7L495.8 174.7L495.8 154.7L506 154.7L506 137.8L522.2 137.8L522.2 123.5L530.4 123.5L530.4 111.1L532.2 111.1L532.2 99.8L535.9 99.8L535.9 81.9L537.9 81.9L537.9 74.9L540.4 74.9L540.4 41.2L542.2 41.2L542.2 15Z"/>
<path fill="#ffffff" stroke="#fff" stroke-width="0.5" d="M635.7 99.8L623.3 99.8L623.3 111.1L617.8 111.1L617.8 123.5L604.5 123.5L604.5 137.8L594.6 137.8L594.6 154.7L587.1 154.7L587.1 174.7L575.9 174.7L575.9 195.9L568.4 195.9L568.4 219.6L562.9 219.6L562.9 234.6L580.8 234.6L580.8 219.6L588.3 219.6L588.3 195.9L597.1 195.9L597.1 174.7L604.5 174.7L604.5 154.7L614.5 154.7L614.5 137.8L625.8 137.8L625.8 123.5L635.7 123.5Z"/>
<path fill="none" stroke="#000" stroke-width="2.8" stroke-linecap="butt" d="M368.8 29.1C375.3 29.1 397.7 28.9 407.7 29.1C417.6 29.3 422.1 29.6 428.4 30.1C434.6 30.6 440.5 31.3 445.2 32.1C450 32.9 452.8 33.8 456.9 34.9C460.9 36 465.2 37.6 469.4 39C473.6 40.3 478.6 41.9 482 42.9C485.3 43.9 487.6 44.3 489.5 44.8C491.4 45.2 492.4 45.3 493.6 45.5C494.9 45.6 495.9 45.7 497 45.7C498.1 45.6 499.1 45.6 500.4 45.3C501.6 45 503 44.6 504.5 44.1C506.1 43.6 507.1 43.2 509.6 42.3C512.1 41.4 515.8 39.9 519.5 38.7C523.3 37.5 528.4 36.1 532.2 35.2C536.1 34.3 538.6 33.7 542.9 33C547.1 32.4 552.2 32 557.9 31.4C563.5 30.8 570.5 30.2 576.8 29.7C583.1 29.3 589.3 28.9 595.7 28.7C602 28.5 608.6 28.4 614.9 28.6C621.1 28.8 630 29.6 633 29.8"/>
</g>
<rect x="371.4" y="17.6" width="259" height="208" fill="none" stroke="#000" stroke-width="0.8"/>
<path d="M371.4 17.6V225.6H630.4" fill="none" stroke="#000" stroke-width="1.2" stroke-linecap="square"/>
<path d="M371.4 225.6v3.2M397.3 225.6v3.2M423.2 225.6v3.2M449.1 225.6v3.2M475 225.6v3.2M500.9 225.6v3.2M526.8 225.6v3.2M552.7 225.6v3.2M578.6 225.6v3.2M604.5 225.6v3.2M630.4 225.6v3.2M371.4 17.6h-3.2M371.4 47.3h-3.2M371.4 77h-3.2M371.4 106.7h-3.2M371.4 136.5h-3.2M371.4 166.2h-3.2M371.4 195.9h-3.2M371.4 225.6h-3.2" stroke="#000" stroke-width="1" fill="none"/>
<text class="tk" transform="translate(373.6 237.8) scale(0.95 1)" text-anchor="middle">−50</text>
<text class="tk" transform="translate(399.5 237.8) scale(0.95 1)" text-anchor="middle">−40</text>
<text class="tk" transform="translate(425.4 237.8) scale(0.95 1)" text-anchor="middle">−30</text>
<text class="tk" transform="translate(451.3 237.8) scale(0.95 1)" text-anchor="middle">−20</text>
<text class="tk" transform="translate(477.2 237.8) scale(0.95 1)" text-anchor="middle">−10</text>
<text class="tk" transform="translate(502.7 237.8) scale(0.95 1)" text-anchor="middle">0</text>
<text class="tk" transform="translate(528.6 237.8) scale(0.95 1)" text-anchor="middle">10</text>
<text class="tk" transform="translate(554.5 237.8) scale(0.95 1)" text-anchor="middle">20</text>
<text class="tk" transform="translate(580.4 237.8) scale(0.95 1)" text-anchor="middle">30</text>
<text class="tk" transform="translate(606.3 237.8) scale(0.95 1)" text-anchor="middle">40</text>
<text class="tk" transform="translate(632.2 237.8) scale(0.95 1)" text-anchor="middle">50</text>
<text class="tk" transform="translate(366 21.3) scale(0.9 1)" text-anchor="end">0</text>
<text class="tk" transform="translate(366 51) scale(0.9 1)" text-anchor="end">100</text>
<text class="tk" transform="translate(366 80.7) scale(0.9 1)" text-anchor="end">200</text>
<text class="tk" transform="translate(366 110.4) scale(0.9 1)" text-anchor="end">300</text>
<text class="tk" transform="translate(366 140.2) scale(0.9 1)" text-anchor="end">400</text>
<text class="tk" transform="translate(366 169.9) scale(0.9 1)" text-anchor="end">500</text>
<text class="tk" transform="translate(366 199.6) scale(0.9 1)" text-anchor="end">600</text>
<text class="tk" transform="translate(366 229.3) scale(0.9 1)" text-anchor="end">700</text>
<text class="lt" x="373.8" y="12.9">b</text>
<text class="tt" x="430.5" y="12.3" textLength="143.5" lengthAdjust="spacingAndGlyphs">Salinity (SPEAR_LO)</text>
<text class="tt" x="456.3" y="249.5" textLength="92.4" lengthAdjust="spacingAndGlyphs">Lead/lag year</text>
<path d="M355 258.5L379.5 253.8V263.2Z" fill="#0000f2" stroke="#000" stroke-opacity="0.9" stroke-width="0.8" stroke-linejoin="miter"/>
<rect x="379.5" y="253.8" width="24.4" height="9.4" fill="#3a32ee"/>
<rect x="403.9" y="253.8" width="24.4" height="9.4" fill="#5050ee"/>
<rect x="428.3" y="253.8" width="24.4" height="9.4" fill="#6478ee"/>
<rect x="452.8" y="253.8" width="24.4" height="9.4" fill="#78a0ee"/>
<rect x="477.2" y="253.8" width="24.4" height="9.4" fill="#c8f0f0"/>
<rect x="501.6" y="253.8" width="24.4" height="9.4" fill="#f0f0c8"/>
<rect x="526" y="253.8" width="24.4" height="9.4" fill="#f0a078"/>
<rect x="550.4" y="253.8" width="24.4" height="9.4" fill="#f07864"/>
<rect x="574.9" y="253.8" width="24.4" height="9.4" fill="#f05050"/>
<rect x="599.3" y="253.8" width="24.4" height="9.4" fill="#f01414"/>
<path d="M649.1 258.5L623.7 253.8V263.2Z" fill="#f00000" stroke="#000" stroke-opacity="0.9" stroke-width="0.8" stroke-linejoin="miter"/>
<path d="M379.5 253.8H623.7M379.5 263.2H623.7M379.5 253.8V263.2M403.9 253.8V263.2M428.3 253.8V263.2M452.8 253.8V263.2M477.2 253.8V263.2M501.6 253.8V263.2M526 253.8V263.2M550.4 253.8V263.2M574.9 253.8V263.2M599.3 253.8V263.2M623.7 253.8V263.2" stroke="#000" stroke-width="0.9" fill="none"/>
<text class="ck" transform="translate(380.2 271) scale(1.1 1)" text-anchor="middle">−0.5</text>
<text class="ck" transform="translate(404.6 271) scale(1.1 1)" text-anchor="middle">−0.4</text>
<text class="ck" transform="translate(429 271) scale(1.1 1)" text-anchor="middle">−0.3</text>
<text class="ck" transform="translate(453.5 271) scale(1.1 1)" text-anchor="middle">−0.2</text>
<text class="ck" transform="translate(477.9 271) scale(1.1 1)" text-anchor="middle">−0.1</text>
<text class="ck" transform="translate(501.9 271) scale(1.1 1)" text-anchor="middle">0</text>
<text class="ck" transform="translate(526.3 271) scale(1.1 1)" text-anchor="middle">0.1</text>
<text class="ck" transform="translate(550.7 271) scale(1.1 1)" text-anchor="middle">0.2</text>
<text class="ck" transform="translate(575.2 271) scale(1.1 1)" text-anchor="middle">0.3</text>
<text class="ck" transform="translate(599.6 271) scale(1.1 1)" text-anchor="middle">0.4</text>
<text class="ck" transform="translate(624 271) scale(1.1 1)" text-anchor="middle">0.5</text>
<text class="un" x="638.6" y="273.2">10<tspan class="sup" dy="-6.3">-1</tspan><tspan dy="6.3"> PSU</tspan></text>
<!-- panel c -->
<clipPath id="cpc"><rect x="44.9" y="305.3" width="259.5" height="207.9"/></clipPath>
<g clip-path="url(#cpc)" shape-rendering="geometricPrecision">
<rect x="44.9" y="305.3" width="259.5" height="207.9" fill="#c8f0f0"/>
<path fill="#f0f0c8" d="M71 346.3L88.9 346.3L92.3 345.7L101.8 342.2L107.4 341.3L117.4 339.4L120.6 338.4L130 335.9L141.9 333.8L146.3 331.2L155.1 329.6L158.9 329.4L180.2 330L182.7 331.6L200.3 332.1L200.3 339.4L216 339.4L216 338.3L224 339L226.9 342.8L226.9 351.2L234 351.2L234 354.4L237.2 354.4L237.2 362.7L232.1 362.7L232.1 369.8L229.5 369.8L229.5 387.8L226.9 387.8L226.9 410L226.9 402.8L216.9 410.3L207.7 420.3L197.7 427.8L181.5 432.7L179.5 437.7L174 437.7L174 427.8L143.8 427.8L126.3 420.3L110.1 414L100.1 410.3L88.9 406.5L78.9 402.8L78.9 402.2L78.9 387.7L81.4 387.7L81.4 370.2L78.9 370.2L78.9 362.3L71 362.3Z"/>
<path fill="#f0f0c8" d="M135.6 303L202.2 303C202.3 304.3 201.5 308.2 202.8 310.5C204.2 312.8 207.8 314.9 210.4 316.8C212.9 318.7 216.6 321 217.9 321.8C211.6 323.7 190.1 331.4 180.2 333.1C170.4 334.9 170.8 335.1 158.9 332.5C146.9 329.9 117 319.9 108.7 317.4C110.1 317 113.9 315.2 117.4 314.6C121 313.9 127 314 130 313.3C133 312.6 134.7 312.2 135.6 310.5C136.6 308.8 135.6 304.3 135.6 303Z"/>
<path fill="#f0a078" d="M94 356.4C94.6 355.5 95.9 352.7 98 351.3C100.1 350 103.6 349.2 106.8 348.2C109.9 347.2 113.7 346.1 116.8 345.1C120 344 123.4 342.9 125.6 341.9C127.8 341 128 340.2 130 339.4C132 338.6 134.8 337.8 137.5 336.9C140.3 336 143.4 334.7 146.3 333.8C149.3 332.8 151.6 331.9 155.1 331.2C158.7 330.6 163.5 330.1 167.7 330C171.8 329.9 176.5 329.9 180.2 330.9C184 331.8 186.9 334.2 190.3 335.6C193.6 337.1 197.4 338.2 200.3 339.4C203.2 340.7 205.2 341.9 207.8 343.2C210.5 344.4 214.6 345.8 216 346.9C217.4 348.1 215 348.3 216 349.9C217 351.5 220.8 355.2 221.8 356.3C221.5 356.8 221.3 357.2 220.2 359.1C219.1 361.1 216.6 364.8 215.2 367.9C213.7 371 212 374.5 211.4 377.9C210.8 381.2 212.7 384.5 211.4 387.8C210.2 391.2 206.9 394.9 203.9 397.8C201 400.7 197.3 403.2 194 405.3C190.6 407.4 187.3 408.8 184 410.3C180.7 411.7 177.4 413.1 174 414C170.6 414.9 167.1 415.6 163.8 415.8C160.4 415.9 157.5 415.5 153.8 414.8C150 414.1 145.3 413.1 141.3 411.5C137.3 410 133.7 407.1 130 405.3C126.3 403.6 122.4 402.3 119.3 400.9C116.3 399.6 113.9 398.6 111.8 397.2C109.7 395.7 108 393.8 106.8 392.1C105.5 390.5 104.1 389.4 104.3 387.1C104.5 384.8 107.8 380.9 108 378.3C108.2 375.7 106.4 373.3 105.5 371.4C104.7 369.5 104.5 368.6 103 367C101.5 365.5 98.2 363.8 96.7 362C95.2 360.2 94.4 357.3 94 356.4Z"/>
<path fill="#f07864" d="M125.6 356.4C126.3 355.5 128 353.1 130 351.3C132 349.6 134.6 347.4 137.5 345.7C140.5 344 144 342.4 147.6 341.3C151.1 340.2 155.1 339.5 158.9 339.2C162.6 338.8 166.2 338.9 170.2 339.4C174.2 339.9 179 340.7 182.7 341.9C186.5 343.2 189.8 345.1 192.8 346.9C195.7 348.8 198.7 351.3 200.3 353.2C201.9 355.1 202.2 356.6 202.2 358.2C202.2 359.9 201.7 361.2 200.3 363.3C198.9 365.4 195.8 368.3 194 370.8C192.3 373.3 190.6 375.8 189.6 378.3C188.7 380.8 189.1 383.6 188.4 385.9C187.6 388.2 186.6 390.3 185.2 392.1C183.9 394 182.3 395.8 180.2 397.2C178.1 398.5 175.6 399.8 172.7 400.3C169.8 400.8 166 400.5 162.6 400.3C159.3 400.1 155.5 399.8 152.6 399C149.7 398.3 147.1 397.3 145.1 395.9C143.1 394.5 141.8 392.8 140.7 390.9C139.5 389 138.7 386.7 138.2 384.6C137.6 382.5 138.1 380.6 137.5 378.3C137 376 136.1 373.3 135 370.8C134 368.3 132.8 365.7 131.3 363.3C129.7 360.9 126.5 357.5 125.6 356.4Z"/>
<path fill="#f05050" d="M149.5 355.7C149.1 354 151.2 352.5 153.2 351.3C155.2 350.2 158.6 349.2 161.4 348.8C164.2 348.5 167.9 348.7 170.2 349.2C172.5 349.7 173.9 350.9 175.2 352C176.5 353.1 177.8 354.4 177.7 355.7C177.6 357.1 175.8 358.9 174.6 360.1C173.3 361.4 172.2 362.5 170.2 363.3C168.2 364 165.2 364.7 162.6 364.5C160.1 364.3 157.3 363.5 155.1 362C152.9 360.5 149.8 357.5 149.5 355.7Z"/>
<path fill="#f0a078" d="M109.3 315.6C111.1 315.5 116.5 315.1 120 314.9C123.4 314.8 127.3 314.9 130 314.6C132.7 314.2 134.4 313.8 136.3 313C138.1 312.3 140.2 311.2 141 309.9C141.9 308.6 141.5 306.4 141.6 305.3C141.6 304.1 141.6 303.4 141.6 303L196.5 303C196.5 303.4 196.3 304.2 196.5 305.3C196.8 306.3 196.3 307.8 197.8 309.3C199.3 310.8 202.8 312.6 205.3 314.3C207.8 316 210.8 318.1 212.9 319.3C215 320.6 217 321.4 217.9 321.8C213.7 323.3 200.7 328.5 192.8 330.6C184.8 332.7 177.5 334.8 170.2 334.4C162.9 334 155.5 330.2 148.8 328.1C142.1 326 135.2 323.5 130 321.8C124.8 320.2 120.9 319.1 117.4 318.1C114 317 110.6 316 109.3 315.6Z"/>
<path fill="#f07864" d="M131.9 316.6C133.7 316.1 139.2 314.4 142.6 313.7C145.9 312.9 150.2 312.8 152 312C153.7 311.3 153.1 310.4 153.2 309.3C153.3 308.1 152.7 306.3 152.6 305.3C152.5 304.2 152.6 303.4 152.6 303L185.2 303C185.2 303.4 185.4 304.1 185.2 305.3C185.1 306.4 184 308.7 184.2 309.9C184.4 311.1 184.7 311.6 186.5 312.4C188.3 313.3 192.6 314.1 195.3 314.9C198 315.8 201.6 317 202.8 317.4C201.6 317.8 198 318.8 195.3 319.6C192.6 320.3 190.7 321 186.5 322.1C182.3 323.1 175.4 325.8 170.2 325.8C164.9 325.9 159.7 323.5 155.1 322.5C150.5 321.4 146.4 320.6 142.6 319.6C138.7 318.6 133.7 317.1 131.9 316.6Z"/>
<path fill="#f05050" d="M141.9 317.4C144.1 316.9 150.8 314.8 155.1 314C159.4 313.3 163.5 313 167.7 313C171.8 313.1 176.1 313.6 180.2 314.3C184.3 315 190.2 316.9 192.1 317.4C190.2 318 184.3 319.7 180.2 320.6C176.1 321.4 171.8 322.4 167.7 322.5C163.5 322.6 159.4 322 155.1 321.2C150.8 320.4 144.1 318.1 141.9 317.4Z"/>
<path fill="#f05050" d="M158.9 303C158.9 303.4 158.2 304.5 158.9 305.3C159.5 306.1 161 307.2 162.6 307.8C164.3 308.3 166.8 308.6 168.9 308.6C171 308.6 173.5 308.3 175.2 307.8C176.9 307.2 178.3 306.1 179 305.3C179.6 304.5 179 303.4 179 303L158.9 303Z"/>
<path fill="#f01414" d="M156.4 317.4C156.6 316.9 159.5 315.9 161.4 315.6C163.3 315.2 165.8 315.1 167.7 315.2C169.5 315.2 171.4 315.6 172.7 315.9C173.9 316.3 175.2 316.9 175.2 317.4C175.2 318 174.2 318.7 172.7 319.1C171.2 319.4 168.5 319.7 166.4 319.7C164.3 319.7 161.8 319.4 160.1 319.1C158.5 318.7 156.2 318 156.4 317.4Z"/>
<path fill="#78a0ee" d="M41.5 410.8C42 410.8 41.8 410.5 44.7 410.8C47.7 411 54.5 411.3 59 412.3C63.4 413.2 67.3 414.8 71.4 416.5C75.6 418.3 79.8 420.5 83.9 422.8C88.1 425 92.2 426.9 96.4 430.2C100.6 433.6 106.8 440.6 108.9 442.7C107.8 444.2 105.1 448.3 102.6 451.5C100.1 454.6 95.4 459.8 93.9 461.4C95.6 462.7 100.1 466.2 103.9 468.9C107.6 471.6 112.2 474.5 116.4 477.7C120.5 480.8 124.7 484.5 128.8 487.6C133 490.7 137.1 494.1 141.3 496.4C145.5 498.7 150 500.2 153.8 501.4C157.5 502.5 160.4 502.9 163.8 503.1C167.1 503.3 170.6 503.3 174 502.6C177.4 501.9 180.7 500.5 184 498.9C187.3 497.2 190.6 495.3 194 492.6C197.3 489.9 200.8 486 203.9 482.6C207.1 479.3 210 476.2 212.7 472.7C215.4 469.1 218.9 463.3 220.2 461.4C219.3 460 216.8 455.8 215.2 452.7C213.5 449.6 211 444.4 210.2 442.7C211.2 441.1 214.1 436.1 216.4 432.7C218.7 429.4 220.6 425.9 223.9 422.8C227.2 419.6 232.2 416.3 236.4 414C240.5 411.7 244.3 410.2 248.9 409C253.4 407.9 258.8 407.3 263.8 407.3C268.8 407.3 274.2 407.9 278.8 409C283.4 410.2 287.5 411.9 291.3 414C295 416.1 298.3 419.2 301.2 421.5C304.2 423.8 307.5 426.7 308.7 427.8L308.7 522.6L41.5 522.6L41.5 410.8Z"/>
<path fill="#6478ee" d="M41.5 476.4C42 476.4 42.7 476 44.7 476.4C46.8 476.8 50.8 477.7 54 478.9C57.2 480.1 60.6 482 64 483.9C67.3 485.8 70.6 488 73.9 490.1C77.3 492.2 80.6 494.3 83.9 496.4C87.2 498.4 91.2 500.7 93.9 502.6C96.6 504.5 99.1 506.8 100.1 507.6C99.8 508.8 98.7 512.6 98.4 515.1C98.1 517.6 98.4 521.3 98.4 522.6L41.5 522.6L41.5 476.4Z"/>
<path fill="#6478ee" d="M41.5 436.5L44.7 437.7L56.5 442.7L44.7 447.7L41.5 449L41.5 436.5Z"/>
<path fill="#6478ee" d="M230.1 522.6L231.9 507.6C233.5 506.3 238.1 502.4 241.4 500.1C244.6 497.8 248.2 495.3 251.3 493.9C254.5 492.4 256.8 491.5 260.1 491.4C263.4 491.2 267.8 491.9 271.3 493.1C274.8 494.4 278.2 496.9 281.3 498.9C284.4 500.9 288.1 503 290 505.1C291.9 507.2 292.1 510.3 292.5 511.3L292.5 522.6L230.1 522.6Z"/>
<path fill="#78a0ee" d="M42.7 303L113.7 303C113.7 303.4 114 304.3 113.7 305.3C113.4 306.2 112.9 307.7 111.8 308.6C110.6 309.6 108.9 310.4 106.8 311.2C104.7 311.9 101.8 312.5 99.2 313C96.7 313.6 94.6 314.1 91.7 314.6C88.8 315 89.8 315.5 81.7 315.8C73.5 316.1 49.2 316.1 42.7 316.2L42.7 303Z"/>
<path fill="#6478ee" d="M42.7 303L95.5 303C95.5 303.4 95.9 304.2 95.5 305.3C95.1 306.3 94.4 308.2 93 309.3C91.5 310.4 89 311.1 86.7 311.8C84.4 312.5 82.1 313.1 79.2 313.7C76.2 314.2 75.2 314.8 69.1 315.2C63 315.5 47.1 315.7 42.7 315.8L42.7 303Z"/>
<path fill="#5050ee" d="M42.7 303L62.8 303C62.8 303.4 62.6 304.3 62.8 305.3C63 306.2 64.7 307.6 64.1 308.6C63.5 309.7 61.2 310.8 59.1 311.5C57 312.3 53.8 312.7 51.5 313C49.3 313.4 47 313.6 45.5 313.7C44 313.8 43.2 313.7 42.7 313.7L42.7 303Z"/>
<path fill="#78a0ee" d="M42.7 320.1C46.1 320.1 56.3 319.8 62.8 319.9C69.3 320.1 76 320.6 81.7 321.2C87.3 321.8 92.1 322.8 96.7 323.7C101.3 324.7 105.6 325.8 109.3 326.9C112.9 327.9 117.1 329.5 118.7 330C117.1 330.5 112.5 332.1 109.3 333.1C106 334.2 103 335.2 99.2 336.3C95.5 337.3 90.9 338.6 86.7 339.4C82.5 340.2 78.7 340.8 74.1 341.3C69.5 341.8 64.3 342.3 59.1 342.5C53.8 342.8 45.5 342.9 42.7 342.9L42.7 320.1Z"/>
<path fill="#6478ee" d="M42.7 323.7C46.1 323.7 56.8 323.4 62.8 323.7C68.9 324 74.8 324.9 79.2 325.6C83.5 326.3 86.8 327.4 89.2 328.1C91.6 328.8 92.9 329.5 93.6 329.7C92.4 330.2 89.5 331.6 86.7 332.5C83.9 333.4 80.4 334.3 76.6 335C72.9 335.7 67.9 336.5 64.1 336.9C60.3 337.3 57.6 337.5 54 337.5C50.5 337.6 44.6 337.2 42.7 337.1L42.7 323.7Z"/>
<path fill="#5050ee" d="M42.7 327.5C44.6 327.5 50.9 327.5 54 327.9C57.2 328.2 60.3 329.4 61.6 329.7C60.3 330.1 57.2 331.2 54 331.6C50.9 332 44.6 332 42.7 332.1L42.7 327.5Z"/>
<path fill="#78a0ee" d="M216.6 310.1C217.8 309.5 221.2 307.6 223.7 306.9C226.2 306.1 230.1 306 231.4 305.3C232.7 304.7 231.4 303.4 231.4 303L305.9 303L305.9 317.1C299.5 317.1 278.1 316.7 267.4 316.9C256.7 317.1 249 318.8 241.7 318.4C234.4 318 227.9 316 223.7 314.6C219.5 313.2 217.8 310.8 216.6 310.1Z"/>
<path fill="#6478ee" d="M230.1 310.1C231.6 309.6 235.9 308.3 239.1 307.5C242.3 306.7 247.7 306.1 249.4 305.3C251.1 304.6 249.4 303.4 249.4 303L305.9 303L305.9 315.8C299.5 315.8 277 315.8 267.4 315.8C257.8 315.8 253 316.3 248.1 315.8C243.2 315.4 240.8 314 237.8 313C234.8 312.1 231.4 310.6 230.1 310.1Z"/>
<path fill="#5050ee" d="M259 303C259 303.4 258.9 304.3 259 305.3C259.1 306.3 258.7 307.7 259.7 308.8C260.6 309.9 261.8 311.3 264.8 312C267.8 312.7 273.4 313 277.7 313C281.9 313.1 287.1 312.8 290.5 312.2C293.9 311.7 296.6 310.6 298.2 309.4C299.8 308.3 299.8 306.4 300.1 305.3C300.5 304.2 300.1 303.4 300.1 303L259 303Z"/>
<path fill="#78a0ee" d="M211 330.4C211.8 329.9 213 328.5 216 327.4C219 326.3 223.5 324.7 228.8 323.6C234.2 322.4 241.7 321.4 248.1 320.5C254.5 319.6 257.8 318.8 267.4 318.2C277 317.6 299.5 317.1 305.9 316.9L305.9 339C305.6 339.1 306.1 339 304 339.6C301.9 340.3 296.6 342 293.1 342.8C289.5 343.6 286.4 343.9 282.8 344.4C279.2 344.8 274.9 345.3 271.2 345.4C267.6 345.5 264.8 345.2 261 344.8C257.1 344.3 252.6 343.8 248.1 342.8C243.6 341.9 238.1 340.1 234 339C229.9 337.8 226.7 336.7 223.7 335.8C220.7 334.8 218.1 334.1 216 333.2C213.9 332.3 211.8 330.8 211 330.4Z"/>
<path fill="#6478ee" d="M228.6 330C229.7 329.3 232 327.1 235.3 326.1C238.5 325.2 242.8 324.7 248.1 324.2C253.5 323.7 259.9 323.1 267.4 322.9C274.9 322.8 286.7 323.1 293.1 323.3C299.5 323.5 303.8 324 305.9 324.2L305.9 332.5C304.6 332.8 301.4 333.3 298.2 333.8C295 334.4 290.7 335.1 286.7 335.8C282.6 336.4 278.1 337.4 273.8 337.7C269.5 338 265.2 337.8 261 337.4C256.7 337.1 252.4 336.5 248.1 335.8C243.8 335.1 238.5 334.2 235.3 333.2C232 332.2 229.7 330.5 228.6 330Z"/>
<path fill="#ffffff" stroke="#fff" stroke-width="0.5" d="M42.7 345.7L76 345.7L76 342.9L88.9 342.9L88.9 350.7L76 350.7L76 356.4L71 356.4L71 362.3L78.9 362.3L78.9 370.2L81.4 370.2L81.4 387.7L78.9 387.7L78.9 402.2L78.9 410.8L50.2 410.8L50.2 399.1L41.5 399.1Z"/>
<path fill="#ffffff" d="M92.3 339.4H101.8V345.7H92.3ZM99.9 399H109.9V411H99.9ZM125.6 303H136.3V313H125.6Z"/>
<path fill="#ffffff" d="M107.2 336.4H117.3V342H107.2ZM92.2 339.5H102.2V345.4H92.2Z"/>
<path fill="#ffffff" stroke="#fff" stroke-width="0.5" d="M84 318.2L100.3 319.1L115.4 320.7L127.9 323.8L136.7 327L146.8 330.7L146.8 333.6L139.2 333.6L139.2 337.9L120.4 337.9L120.4 334.1L127.3 334.1L127.3 327L115.4 323.8L100.3 321.9L84 320.7Z"/>
<path fill="#ffffff" stroke="#fff" stroke-width="0.5" d="M96.6 313.8L126.1 312.8L126.1 315.7L115.4 316.9L96.6 316Z"/>
<path fill="#ffffff" d="M99.4 399.1H110.1V425.8H99.4Z"/>
<path fill="#ffffff" stroke="#fff" stroke-width="0.5" d="M125.8 411.5L143.8 411.5L143.8 434L146.3 434L146.3 426.5L174 426.5L179.5 426.5L179.5 442.7L190.2 442.7L190.2 482.6L133.3 482.6L133.3 442.7L125.8 442.7Z"/>
<path fill="#ffffff" d="M182.7 411.5H197.7V442.7H182.7ZM208.4 399.1H216.4V425.8H208.4Z"/>
<path fill="#ffffff" stroke="#fff" stroke-width="0.5" d="M201.4 305L211.4 305L211.4 313.8L220.2 315.7L229 317.6L229 319.8L217.7 319.1L207.7 316.6L201.4 313.8Z"/>
<path fill="#ffffff" stroke="#fff" stroke-width="0.5" d="M185.1 332L191.3 329.5L198.9 327L200.8 327L200.8 329.5L203.9 329.5L203.9 332L207.7 332L207.7 334.5L211.4 334.5L211.4 336.4L215.8 336.4L215.8 342L207.7 342L207.7 338.9L198.9 338.9L198.9 335.1L192.6 335.1L192.6 332.6L185.1 333.6Z"/>
<path fill="#ffffff" d="M219 338.9H224V345.8H219ZM226.5 342H234V345.8H226.5Z"/>
<path fill="#ffffff" d="M218.8 339.2H224V346H218.8Z"/>
<path fill="#ffffff" stroke="#fff" stroke-width="0.5" d="M226.9 342.8L234 342.8L234 346L250 346L250 351.2L262.9 351.2L262.9 362.7L257.8 362.7L257.8 369.8L247.5 369.8L247.5 398.7L239.8 398.7L239.8 410L226.9 410L226.9 387.8L229.5 387.8L229.5 369.8L232.1 369.8L232.1 362.7L237.2 362.7L237.2 354.4L234 354.4L234 351.2L226.9 351.2Z"/>
<path fill="#ffffff" stroke="#fff" stroke-width="0.5" d="M299.5 346.7L305.9 346.7L305.9 410.9L298.9 410.9L298.9 398.7L296.3 398.7L296.3 378.8L298.9 378.8L298.9 369.8L293.7 369.8L293.7 362.7L291.2 362.7L291.2 351.2L299.5 351.2Z"/>
<path fill="none" stroke="#000" stroke-width="2.8" stroke-linecap="butt" d="M42.3 316.8C48.8 316.8 71.3 316.6 81.2 316.8C91.2 317 95.7 317.3 102 317.8C108.3 318.3 114.1 319 118.9 319.8C123.6 320.6 126.5 321.5 130.5 322.6C134.6 323.7 138.9 325.3 143.1 326.7C147.3 328 152.4 329.6 155.7 330.6C159.1 331.6 161.3 332 163.2 332.4C165.2 332.9 166.1 333 167.4 333.2C168.6 333.3 169.6 333.4 170.8 333.4C171.9 333.3 172.9 333.3 174.1 333C175.4 332.7 176.7 332.3 178.3 331.8C179.8 331.3 180.8 330.9 183.3 330C185.9 329.1 189.5 327.6 193.3 326.4C197.1 325.2 202.2 323.8 206 322.9C209.9 322 212.4 321.4 216.7 320.8C221 320.1 226.1 319.7 231.7 319.1C237.4 318.5 244.4 317.9 250.7 317.4C257 317 263.3 316.6 269.6 316.4C276 316.2 282.6 316.1 288.8 316.3C295.1 316.5 304 317.3 307 317.5"/>
</g>
<rect x="44.9" y="305.3" width="259.5" height="207.9" fill="none" stroke="#000" stroke-width="0.8"/>
<path d="M44.9 305.3V513.2H304.4" fill="none" stroke="#000" stroke-width="1.2" stroke-linecap="square"/>
<path d="M44.9 513.2v3.2M70.8 513.2v3.2M96.8 513.2v3.2M122.8 513.2v3.2M148.7 513.2v3.2M174.7 513.2v3.2M200.6 513.2v3.2M226.6 513.2v3.2M252.5 513.2v3.2M278.4 513.2v3.2M304.4 513.2v3.2M44.9 305.3h-3.2M44.9 335h-3.2M44.9 364.7h-3.2M44.9 394.4h-3.2M44.9 424.1h-3.2M44.9 453.8h-3.2M44.9 483.5h-3.2M44.9 513.2h-3.2" stroke="#000" stroke-width="1" fill="none"/>
<text class="tk" transform="translate(47.4 525.4) scale(0.95 1)" text-anchor="middle">−50</text>
<text class="tk" transform="translate(73.3 525.4) scale(0.95 1)" text-anchor="middle">−40</text>
<text class="tk" transform="translate(99.3 525.4) scale(0.95 1)" text-anchor="middle">−30</text>
<text class="tk" transform="translate(125.2 525.4) scale(0.95 1)" text-anchor="middle">−20</text>
<text class="tk" transform="translate(151.2 525.4) scale(0.95 1)" text-anchor="middle">−10</text>
<text class="tk" transform="translate(176.8 525.4) scale(0.95 1)" text-anchor="middle">0</text>
<text class="tk" transform="translate(202.7 525.4) scale(0.95 1)" text-anchor="middle">10</text>
<text class="tk" transform="translate(228.7 525.4) scale(0.95 1)" text-anchor="middle">20</text>
<text class="tk" transform="translate(254.6 525.4) scale(0.95 1)" text-anchor="middle">30</text>
<text class="tk" transform="translate(280.5 525.4) scale(0.95 1)" text-anchor="middle">40</text>
<text class="tk" transform="translate(306.5 525.4) scale(0.95 1)" text-anchor="middle">50</text>
<text class="tk" transform="translate(39.5 309) scale(0.9 1)" text-anchor="end">0</text>
<text class="tk" transform="translate(39.5 338.7) scale(0.9 1)" text-anchor="end">100</text>
<text class="tk" transform="translate(39.5 368.4) scale(0.9 1)" text-anchor="end">200</text>
<text class="tk" transform="translate(39.5 398.1) scale(0.9 1)" text-anchor="end">300</text>
<text class="tk" transform="translate(39.5 427.8) scale(0.9 1)" text-anchor="end">400</text>
<text class="tk" transform="translate(39.5 457.5) scale(0.9 1)" text-anchor="end">500</text>
<text class="tk" transform="translate(39.5 487.2) scale(0.9 1)" text-anchor="end">600</text>
<text class="tk" transform="translate(39.5 516.9) scale(0.9 1)" text-anchor="end">700</text>
<text class="lt" x="46.8" y="302.6">c</text>
<text class="tt" x="70.7" y="301.4" textLength="209.5" lengthAdjust="spacingAndGlyphs">Potential Density (SPEAR_LO)</text>
<text class="tt" x="128.8" y="537.6" textLength="92.4" lengthAdjust="spacingAndGlyphs">Lead/lag year</text>
<text class="tt" transform="translate(12.3 410.6) rotate(-90)" x="-33.7" y="0" textLength="67.5" lengthAdjust="spacingAndGlyphs">Depth (m)</text>
<path d="M28.2 548.1L52.9 543.5V552.8Z" fill="#0000f2" stroke="#000" stroke-opacity="0.9" stroke-width="0.8" stroke-linejoin="miter"/>
<rect x="52.9" y="543.5" width="24.4" height="9.3" fill="#3a32ee"/>
<rect x="77.3" y="543.5" width="24.4" height="9.3" fill="#5050ee"/>
<rect x="101.7" y="543.5" width="24.4" height="9.3" fill="#6478ee"/>
<rect x="126.1" y="543.5" width="24.4" height="9.3" fill="#78a0ee"/>
<rect x="150.5" y="543.5" width="24.4" height="9.3" fill="#c8f0f0"/>
<rect x="174.9" y="543.5" width="24.4" height="9.3" fill="#f0f0c8"/>
<rect x="199.3" y="543.5" width="24.4" height="9.3" fill="#f0a078"/>
<rect x="223.7" y="543.5" width="24.4" height="9.3" fill="#f07864"/>
<rect x="248.1" y="543.5" width="24.4" height="9.3" fill="#f05050"/>
<rect x="272.5" y="543.5" width="24.4" height="9.3" fill="#f01414"/>
<path d="M322 548.1L296.9 543.5V552.8Z" fill="#f00000" stroke="#000" stroke-opacity="0.9" stroke-width="0.8" stroke-linejoin="miter"/>
<path d="M52.9 543.5H296.9M52.9 552.8H296.9M52.9 543.5V552.8M77.3 543.5V552.8M101.7 543.5V552.8M126.1 543.5V552.8M150.5 543.5V552.8M174.9 543.5V552.8M199.3 543.5V552.8M223.7 543.5V552.8M248.1 543.5V552.8M272.5 543.5V552.8M296.9 543.5V552.8" stroke="#000" stroke-width="0.9" fill="none"/>
<text class="ck" transform="translate(53.6 560.6) scale(1.1 1)" text-anchor="middle">−0.5</text>
<text class="ck" transform="translate(78 560.6) scale(1.1 1)" text-anchor="middle">−0.4</text>
<text class="ck" transform="translate(102.4 560.6) scale(1.1 1)" text-anchor="middle">−0.3</text>
<text class="ck" transform="translate(126.8 560.6) scale(1.1 1)" text-anchor="middle">−0.2</text>
<text class="ck" transform="translate(151.2 560.6) scale(1.1 1)" text-anchor="middle">−0.1</text>
<text class="ck" transform="translate(175.2 560.6) scale(1.1 1)" text-anchor="middle">0</text>
<text class="ck" transform="translate(199.6 560.6) scale(1.1 1)" text-anchor="middle">0.1</text>
<text class="ck" transform="translate(224 560.6) scale(1.1 1)" text-anchor="middle">0.2</text>
<text class="ck" transform="translate(248.4 560.6) scale(1.1 1)" text-anchor="middle">0.3</text>
<text class="ck" transform="translate(272.8 560.6) scale(1.1 1)" text-anchor="middle">0.4</text>
<text class="ck" transform="translate(297.2 560.6) scale(1.1 1)" text-anchor="middle">0.5</text>
<text class="un" x="308.9" y="563.2">10<tspan class="sup" dy="-6.3">-1</tspan><tspan dy="6.3" dx="0.5">kg m</tspan><tspan class="sup" dy="-6.3">-3</tspan></text>
<!-- panel d -->
<clipPath id="cpd"><rect x="372.5" y="305.5" width="259.4" height="208.3"/></clipPath>
<g clip-path="url(#cpd)" shape-rendering="geometricPrecision">
<rect x="372.5" y="305.5" width="259.4" height="208.3" fill="#f0f0c8"/>
<path fill="#c8f0f0" d="M416.9 522.6L416.9 443.2L424.9 443.2L424.9 425.8L429.9 425.8L429.9 411.5L434.8 410L434.8 399L442.9 399L442.9 388.4L448 388.4L448 378.3L445.2 378.3L445.2 370.2L434.8 370.2L434.8 363L427.2 363L427.2 357L424.5 357L424.5 351.3L422.2 351.3L422.2 342.9L427.2 342.9L427.2 339.4L442.9 339.4L442.9 336.3L448 336.3L448 333.8L445.4 333.8L445.4 331.6L439.8 331.6L439.8 329.4L437.3 329.4L437.3 326.9L434.8 326.9L434.8 324.3L432.3 324.3L432.3 321.8L429.8 321.8L429.8 318.1L434.6 320.5L444.1 317.2L453.6 313.4L461.2 309.6L469.7 305.3L469.7 303L577.9 303L577.9 311.5L566.5 314.4L557 317.2L547.5 319.7L542.8 322L541.9 335.4L539.4 335.4L539.4 342.9L536.9 342.9L536.9 350.4L543.2 350.4L543.2 356.6L551.9 356.6L551.9 362.9L556.4 362.9L556.4 369.9L558.9 369.9L558.9 399.1L556.4 399.1L556.4 411.5L554.4 411.5L554.4 425.8L551.9 425.8L551.9 442.7L546.4 442.7L546.4 461.4L538.4 461.4L538.4 507.6L540.9 507.6L540.9 522.6Z"/>
<path fill="#78a0ee" d="M475.6 303C475.5 303.5 476.2 304.7 475.3 305.8C474.5 306.8 472.2 307.6 470.6 309.3C468.9 310.9 467.3 313.7 465.5 315.6C463.8 317.4 459.9 318.5 459.9 320.6C459.9 322.7 463.3 325.6 465.5 328.1C467.7 330.6 470.6 333.1 473.1 335.6C475.6 338.2 478.3 340.5 480.6 343.2C482.9 345.9 485.1 349.9 486.9 352C488.7 354.1 490.5 355.1 491.3 355.7C492 355.4 494.1 355.4 495.7 353.8C497.2 352.3 498.6 348.3 500.7 346.3C502.8 344.3 505.5 343.2 508.2 341.9C510.9 340.7 514.1 340 517 338.8C519.9 337.5 523.8 336 525.8 334.4C527.8 332.8 528.3 331 528.9 329.4C529.6 327.7 528.8 325.9 529.6 324.3C530.3 322.8 531.7 321.3 533.3 319.9C535 318.6 537.8 317 539.6 316.2C541.4 315.3 542.2 315.3 544 314.9C545.8 314.6 548.3 314.4 550.4 313.9C552.6 313.4 554.7 312.7 556.8 312C559 311.2 561.3 310.4 563.3 309.4C565.2 308.5 567.4 307.3 568.4 306.2C569.4 305.1 568.9 303.5 569.1 303L475.6 303Z"/>
<path fill="#6478ee" d="M475.8 303C475.8 303.5 476.3 304.9 475.8 306.1C475.3 307.4 473.9 308.3 472.8 310.5C471.7 312.7 469 316.8 469.3 319.3C469.6 321.8 472 323.3 474.3 325.6C476.6 327.9 479.6 331.2 483.1 333.1C486.7 335 491.5 336.7 495.7 336.9C499.8 337.1 504.7 335.5 508.2 334.4C511.8 333.2 514.7 331.7 517 330C519.3 328.3 520.6 326.1 522 324.3C523.5 322.6 524.3 320.7 525.8 319.3C527.3 318 528.7 317.1 530.8 316.2C532.9 315.2 536.2 314.3 538.4 313.7C540.5 313 542 312.7 544 312.4C546 312.1 548.3 312.1 550.4 311.7C552.6 311.3 554.7 310.7 556.8 310.1C559 309.4 561.6 308.6 563.3 307.9C565 307.1 566.4 306.4 567.1 305.6C567.8 304.8 567.3 303.4 567.4 303L475.8 303Z"/>
<path fill="#5050ee" d="M476.2 303C476.2 303.5 476.2 304.7 476.5 305.8C476.7 306.8 477.7 307.6 477.8 309.3C478 310.9 476.8 313.3 477.5 315.6C478.1 317.9 480.1 320.7 481.9 323.1C483.6 325.5 485.6 328.2 488.1 330C490.6 331.8 494 333.4 496.9 333.8C499.8 334.1 503.4 332.8 505.7 331.9C508 330.9 509.3 329.5 510.7 328.1C512.2 326.7 513.2 325.1 514.5 323.7C515.8 322.4 516.8 321.1 518.3 319.9C519.7 318.8 521.2 317.9 523.3 316.8C525.4 315.8 528.3 314.5 530.8 313.7C533.3 312.8 536.2 312.3 538.4 311.8C540.5 311.3 542 311 544 310.8C546 310.6 548.3 310.7 550.4 310.5C552.6 310.2 554.7 309.6 556.8 309C559 308.5 561.7 307.7 563.3 307.1C564.9 306.5 565.9 306 566.5 305.3C567 304.6 566.6 303.4 566.6 303L476.2 303Z"/>
<path fill="#3a32ee" d="M476.6 303C476.6 303.4 476 304.7 476.8 305.5C477.7 306.3 480.6 306.9 481.9 307.8C483.2 308.6 484.1 309.2 484.6 310.5C485.1 311.8 484.4 313.5 485 315.6C485.6 317.6 486.6 321.1 488.1 323.1C489.7 325.1 492.3 326.7 494.4 327.5C496.5 328.2 498.8 327.9 500.7 327.5C502.6 327.1 504.2 326.1 505.7 325C507.2 323.8 508 321.9 509.5 320.6C510.9 319.2 512.6 317.9 514.5 316.8C516.4 315.8 518.5 315 520.8 314.3C523.1 313.6 525.8 313 528.3 312.4C530.8 311.8 533.2 311.3 535.8 310.8C538.5 310.3 541.6 309.8 544 309.5C546.4 309.3 548.3 309.6 550.4 309.4C552.6 309.2 554.7 308.9 556.8 308.4C559 307.9 561.7 307.1 563.3 306.6C564.8 306.1 565.6 305.9 566.1 305.3C566.6 304.7 566.1 303.4 566.1 303L476.6 303Z"/>
<path fill="#0000f2" d="M476.8 303C476.9 303.4 476.4 304.6 477.5 305.3C478.5 305.9 481.3 305.9 483.1 307C484.9 308.1 486.7 310.2 488.1 311.8C489.6 313.4 490.2 315.6 491.9 316.8C493.6 318.1 496.3 319.2 498.2 319.3C500.1 319.4 501.5 318.3 503.2 317.4C504.9 316.6 506.1 315.2 508.2 314.3C510.3 313.4 512.8 312.5 515.8 311.8C518.7 311.1 522.4 310.4 525.8 309.9C529.1 309.4 532.8 309 535.8 308.6C538.9 308.3 541.4 308.1 544 308C546.6 307.9 549.1 308.1 551.7 307.9C554.3 307.7 557.1 307.3 559.4 306.9C561.7 306.4 564.6 306 565.6 305.3C566.6 304.7 565.6 303.4 565.6 303L476.8 303Z"/>
<path fill="#f0a078" d="M370.7 303L472.4 303C472.4 303.5 474 304.7 472.4 306C470.9 307.3 466.2 309.6 463 310.9C459.9 312.2 456.8 313.1 453.6 313.7C450.4 314.3 448.2 314.3 444.1 314.6C439.9 314.8 432.7 314.7 428.9 314.9C425.1 315.2 423.2 315.5 421.3 315.9C419.5 316.4 418.2 317.5 417.6 317.8L370.7 317.8L370.7 303Z"/>
<path fill="#f0f0c8" d="M377 312.4C377.6 311.7 379.7 310.7 382 310.3C384.3 309.9 388.6 309.7 390.8 309.9C393 310.2 394.8 311.1 395.2 311.8C395.6 312.5 395.1 313.8 393.3 314.3C391.6 314.8 387.1 314.9 384.6 314.9C382 315 379.5 315 378.3 314.6C377 314.1 376.4 313.1 377 312.4Z"/>
<path fill="#f07864" d="M370.7 309.3C371.8 309.4 375.9 309.4 377 309.9C378.2 310.4 377.9 311.6 377.6 312.4C377.4 313.3 376.9 314.4 375.8 314.9C374.6 315.5 371.6 315.5 370.7 315.6L370.7 309.3Z"/>
<path fill="#f07864" d="M414.7 309.3L429.8 309.3C429.3 309.7 428.3 311 427.2 311.8C426.2 312.6 424.6 313.9 423.5 314C422.3 314.2 421.4 313 420.3 312.4C419.3 311.9 418.1 311.3 417.2 310.8C416.3 310.3 415.1 309.5 414.7 309.3Z"/>
<path fill="#f07864" d="M371.1 303L474.5 303C474.2 303.5 474.5 304.8 472.6 306C470.7 307.3 466.2 309.5 463.1 310.6C459.9 311.7 456.8 312.2 453.6 312.7C450.4 313.1 447.6 313.2 444.1 313.2C440.6 313.2 436.5 313 432.7 312.7C428.9 312.4 425.1 311.7 421.3 311.3C417.5 311 414.1 310.9 410 310.8C405.8 310.7 399.8 310.9 396.7 310.6C393.5 310.3 393.8 309.3 391 309.1C388.1 308.8 382.9 308.8 379.6 309.1C376.3 309.4 372.5 310.7 371.1 311L371.1 303Z"/>
<path fill="#f05050" d="M371.1 303L474.5 303C473.9 303.5 473.4 304.7 471.1 305.8C468.7 307 464.7 309 460.2 310C455.7 311 449.3 311.5 444.1 311.7C438.9 312 433 311.6 428.9 311.3C424.8 311.1 424.2 310.6 419.4 310.2C414.7 309.8 408.5 309.3 400.5 309.1C392.4 308.8 376 308.8 371.1 308.7L371.1 303Z"/>
<path fill="#f01414" d="M371.1 303L474.5 303C473.8 303.4 473 304.6 470.3 305.7C467.6 306.7 463.7 308.3 458.3 309.1C453 309.8 444.9 310.1 438.4 310.2C431.9 310.3 425.8 309.8 419.4 309.5C413.1 309.1 408.5 308.6 400.5 308.3C392.4 308.1 376 308 371.1 307.9L371.1 303Z"/>
<path fill="#f00000" d="M371.1 303L474.5 303C473.7 303.4 472.6 304.6 469.7 305.5C466.9 306.4 462.6 307.7 457.4 308.3C452.2 308.9 444.7 309.2 438.4 309.3C432.1 309.3 425.8 308.9 419.4 308.7C413.1 308.4 408.5 308 400.5 307.7C392.4 307.5 376 307.4 371.1 307.4L371.1 303Z"/>
<path fill="#f0a078" d="M370.7 315.6L418.5 315.6C418.6 316.5 418.8 319.7 419.1 321.2C419.4 322.7 419.8 323.1 420.3 324.3C420.9 325.6 422.5 327.4 422.5 328.7C422.5 330.1 422.1 331.3 420.3 332.5C418.6 333.7 415 335.2 412.2 335.9C409.4 336.6 406.3 336.8 403.4 336.9C400.5 337 397.7 336.6 394.6 336.3C391.5 336 388.2 335.1 384.6 335C381 335 375.3 335.7 373 335.9C370.7 336 371.1 335.9 370.7 335.9L370.7 315.6Z"/>
<path fill="#f07864" d="M370.7 318.7C371.1 318.9 371.5 319.7 373 319.9C374.5 320.2 377.5 319.3 379.5 319.9C381.6 320.6 384.2 323.1 385.2 323.7C384.2 324.2 381.6 326.1 379.5 326.9C377.5 327.6 374.5 327.9 373 328.1C371.5 328.3 371.1 328.1 370.7 328.1L370.7 318.7Z"/>
<path fill="#f0a078" d="M545.6 320.5C547.9 319.5 554.8 316 558.9 314.8C563 313.5 566.5 313.6 570.3 312.9C574.1 312.2 579.2 311.4 581.7 310.6C584.2 309.7 584.5 309 585.5 307.7C586.4 306.5 587.1 303.8 587.4 303L634.8 303L634.8 320.5L545.6 320.5Z"/>
<path fill="#f07864" d="M589 308.1C591.7 308.2 603.1 308.3 605.7 308.8C608.2 309.3 606.1 310.4 604.4 311C602.7 311.5 597.7 312 595.4 312C593 311.9 591.3 311.4 590.2 310.7C589.2 310.1 589.2 308.6 589 308.1Z"/>
<path fill="#f07864" d="M618.5 308.4L633.9 308.4L633.9 314.6C632.6 314.5 628.4 314.2 626.2 313.9C624.1 313.6 622.3 313.2 621.1 312.6C619.9 312.1 619.6 311.4 619.2 310.7C618.7 310 618.6 308.8 618.5 308.4Z"/>
<path fill="#f07864" d="M585.5 303C585.5 303.6 584.9 305.3 585.5 306.4C586.1 307.6 587.4 309.1 589.3 309.8C591.2 310.5 594.3 310.6 596.9 310.6C599.4 310.6 602.6 311.1 604.5 309.8C606.4 308.6 607.6 304.1 608.3 303L585.5 303Z"/>
<path fill="#f05050" d="M589.7 303L634.8 303L634.8 309.1L600.7 309.1L593.1 308.3Z"/>
<path fill="#f01414" d="M590.4 303L634.8 303L634.8 308.3L600.7 308.3L593.5 307.6Z"/>
<path fill="#f00000" d="M591.2 303L634.8 303L634.8 307.6L600.7 307.6L594 306.8Z"/>
<path fill="#f0a078" d="M536.3 321C537.6 321.6 541.4 323.3 544 324.8C546.6 326.3 548.5 328.6 551.7 330C554.9 331.4 558.6 332.2 563.3 333.2C568 334.2 574.2 335 580 335.8C585.8 336.5 592.4 337 598 337.7C603.5 338.3 609.1 339.4 613.4 339.6C617.7 339.8 620.2 339.3 623.7 339C627.1 338.6 632.2 337.7 633.9 337.4L633.9 315.8C625.4 315.8 595.4 315.4 582.5 315.8C569.7 316.3 564.6 317.6 556.8 318.4C549.1 319.3 539.7 320.6 536.3 321Z"/>
<path fill="#f07864" d="M560.7 325.5C561.3 324.6 565 323 569.7 322.3C574.4 321.5 582.5 321.3 589 321C595.4 320.7 602.9 320.1 608.2 320.3C613.6 320.6 617.9 321.4 621.1 322.3C624.3 323.1 627.5 324.2 627.5 325.5C627.5 326.8 624.3 329 621.1 330C617.9 331 612.9 331.4 608.2 331.5C603.5 331.6 598.2 331.1 592.8 330.6C587.5 330.1 580.6 329.2 576.1 328.7C571.6 328.2 568.4 328.2 565.8 327.7C563.3 327.1 560.1 326.4 560.7 325.5Z"/>
<path fill="#ffffff" stroke="#fff" stroke-width="0.5" d="M416.9 522.6L416.9 443.2L424.9 443.2L424.9 425.8L429.9 425.8L429.9 411.5L434.8 410L434.8 399L442.9 399L442.9 388.4L448 388.4L448 378.3L445.2 378.3L445.2 370.2L434.8 370.2L434.8 363L427.2 363L427.2 357L424.5 357L424.5 351.3L422.2 351.3L422.2 342.9L427.2 342.9L427.2 339.4L442.9 339.4L442.9 336.3L448 336.3L448 333.8L445.4 333.8L445.4 331.6L439.8 331.6L439.8 329.4L437.3 329.4L437.3 326.9L434.8 326.9L434.8 324.3L432.3 324.3L432.3 321.8L429.8 321.8L429.8 318.1L434.6 320.5L444.1 317.2L453.6 313.4L461.2 309.6L469.7 305.3L469.7 303L476 303L476 305.3L468.8 309.6L462.1 313.4L455.5 316.7L447.9 320.1L442.2 322.9L452.4 321.8L443.6 319.9L443.6 321.8L448.6 321.8L448.6 326.2L453.6 326.2L453.6 329.4L458.6 329.4L460.6 330.4L460.6 345.4L458.1 345.4L458.1 350.4L455.6 350.4L455.6 356.6L458.1 356.6L458.1 387.8L455.6 387.8L455.6 399.1L450.6 399.1L450.6 411.5L445.6 411.5L445.6 425.8L439.9 425.8L439.9 443.2L434.9 443.2L434.9 462.2L427.4 462.2L427.4 483.9L424.4 483.9L424.4 522.6Z"/>
<path fill="#ffffff" stroke="#fff" stroke-width="0.5" d="M565.9 303L564.4 310.5L551.9 316.7L543.2 320.5L533.9 328L533.9 339.2L528.2 339.2L528.2 356.6L533.2 356.6L533.2 362.9L541.4 362.9L541.4 369.9L548.9 369.9L548.9 377.9L551.4 377.9L551.4 387.8L548.9 387.8L548.9 411.5L546.4 411.5L546.4 425.8L541.4 425.8L541.4 442.7L533.4 442.7L533.4 461.4L531.4 461.4L531.4 507.6L533.4 507.6L533.4 522.6L540.9 522.6L540.9 507.6L538.4 507.6L538.4 461.4L546.4 461.4L546.4 442.7L551.9 442.7L551.9 425.8L554.4 425.8L554.4 411.5L556.4 411.5L556.4 399.1L558.9 399.1L558.9 369.9L556.4 369.9L556.4 362.9L551.9 362.9L551.9 356.6L543.2 356.6L543.2 350.4L536.9 350.4L536.9 342.9L539.4 342.9L539.4 335.4L541.9 335.4L542.8 322L547.5 319.7L557 317.2L566.5 314.4L577.9 311.5L577.9 303Z"/>
<path fill="#f0f0c8" d="M538.4 442.7H541.4V461.4H538.4Z"/>
<path fill="none" stroke="#000" stroke-width="2.8" stroke-linecap="butt" d="M369.9 317C376.4 317 398.9 316.8 408.8 317C418.8 317.2 423.3 317.5 429.6 318C435.8 318.5 441.7 319.2 446.4 320C451.2 320.8 454.1 321.7 458.1 322.8C462.1 323.9 466.5 325.5 470.7 326.9C474.9 328.2 479.9 329.8 483.3 330.8C486.6 331.8 488.8 332.2 490.8 332.6C492.7 333.1 493.7 333.2 494.9 333.4C496.2 333.5 497.2 333.6 498.3 333.6C499.4 333.5 500.4 333.5 501.7 333.2C502.9 332.9 504.3 332.5 505.8 332C507.4 331.5 508.4 331.1 510.9 330.2C513.4 329.3 517.1 327.8 520.9 326.6C524.7 325.4 529.7 324 533.6 323.1C537.5 322.2 539.9 321.6 544.2 320.9C548.5 320.3 553.6 319.9 559.3 319.3C564.9 318.7 571.9 318.1 578.2 317.6C584.5 317.2 590.8 316.8 597.1 316.6C603.5 316.4 610.1 316.3 616.3 316.5C622.6 316.7 631.5 317.5 634.5 317.7"/>
</g>
<rect x="372.5" y="305.5" width="259.4" height="208.3" fill="none" stroke="#000" stroke-width="0.8"/>
<path d="M372.5 305.5V513.8H631.9" fill="none" stroke="#000" stroke-width="1.2" stroke-linecap="square"/>
<path d="M372.5 513.8v3.2M398.4 513.8v3.2M424.4 513.8v3.2M450.3 513.8v3.2M476.3 513.8v3.2M502.2 513.8v3.2M528.1 513.8v3.2M554.1 513.8v3.2M580 513.8v3.2M606 513.8v3.2M631.9 513.8v3.2M372.5 305.5h-3.2M372.5 335.3h-3.2M372.5 365h-3.2M372.5 394.8h-3.2M372.5 424.5h-3.2M372.5 454.3h-3.2M372.5 484h-3.2M372.5 513.8h-3.2" stroke="#000" stroke-width="1" fill="none"/>
<text class="tk" transform="translate(375 526) scale(0.95 1)" text-anchor="middle">−50</text>
<text class="tk" transform="translate(400.9 526) scale(0.95 1)" text-anchor="middle">−40</text>
<text class="tk" transform="translate(426.9 526) scale(0.95 1)" text-anchor="middle">−30</text>
<text class="tk" transform="translate(452.8 526) scale(0.95 1)" text-anchor="middle">−20</text>
<text class="tk" transform="translate(478.8 526) scale(0.95 1)" text-anchor="middle">−10</text>
<text class="tk" transform="translate(504.3 526) scale(0.95 1)" text-anchor="middle">0</text>
<text class="tk" transform="translate(530.2 526) scale(0.95 1)" text-anchor="middle">10</text>
<text class="tk" transform="translate(556.2 526) scale(0.95 1)" text-anchor="middle">20</text>
<text class="tk" transform="translate(582.1 526) scale(0.95 1)" text-anchor="middle">30</text>
<text class="tk" transform="translate(608.1 526) scale(0.95 1)" text-anchor="middle">40</text>
<text class="tk" transform="translate(634 526) scale(0.95 1)" text-anchor="middle">50</text>
<text class="tk" transform="translate(367.1 309.2) scale(0.9 1)" text-anchor="end">0</text>
<text class="tk" transform="translate(367.1 339) scale(0.9 1)" text-anchor="end">100</text>
<text class="tk" transform="translate(367.1 368.7) scale(0.9 1)" text-anchor="end">200</text>
<text class="tk" transform="translate(367.1 398.5) scale(0.9 1)" text-anchor="end">300</text>
<text class="tk" transform="translate(367.1 428.2) scale(0.9 1)" text-anchor="end">400</text>
<text class="tk" transform="translate(367.1 458) scale(0.9 1)" text-anchor="end">500</text>
<text class="tk" transform="translate(367.1 487.7) scale(0.9 1)" text-anchor="end">600</text>
<text class="tk" transform="translate(367.1 517.5) scale(0.9 1)" text-anchor="end">700</text>
<text class="lt" x="373.3" y="303.4">d</text>
<text class="tt" x="417.5" y="301" textLength="179" lengthAdjust="spacingAndGlyphs">Stratification (SPEAR_LO)</text>
<text class="tt" x="459.5" y="538.2" textLength="92.4" lengthAdjust="spacingAndGlyphs">Lead/lag year</text>
<path d="M355.7 548.8L380.4 544V553.6Z" fill="#0000f2" stroke="#000" stroke-opacity="0.9" stroke-width="0.8" stroke-linejoin="miter"/>
<rect x="380.4" y="544" width="24.4" height="9.6" fill="#3a32ee"/>
<rect x="404.8" y="544" width="24.4" height="9.6" fill="#5050ee"/>
<rect x="429.2" y="544" width="24.4" height="9.6" fill="#6478ee"/>
<rect x="453.6" y="544" width="24.4" height="9.6" fill="#78a0ee"/>
<rect x="478" y="544" width="24.4" height="9.6" fill="#c8f0f0"/>
<rect x="502.4" y="544" width="24.4" height="9.6" fill="#f0f0c8"/>
<rect x="526.8" y="544" width="24.4" height="9.6" fill="#f0a078"/>
<rect x="551.2" y="544" width="24.4" height="9.6" fill="#f07864"/>
<rect x="575.6" y="544" width="24.4" height="9.6" fill="#f05050"/>
<rect x="600" y="544" width="24.4" height="9.6" fill="#f01414"/>
<path d="M650 548.8L624.4 544V553.6Z" fill="#f00000" stroke="#000" stroke-opacity="0.9" stroke-width="0.8" stroke-linejoin="miter"/>
<path d="M380.4 544H624.4M380.4 553.6H624.4M380.4 544V553.6M404.8 544V553.6M429.2 544V553.6M453.6 544V553.6M478 544V553.6M502.4 544V553.6M526.8 544V553.6M551.2 544V553.6M575.6 544V553.6M600 544V553.6M624.4 544V553.6" stroke="#000" stroke-width="0.9" fill="none"/>
<text class="ck" transform="translate(381.1 561.4) scale(1.1 1)" text-anchor="middle">−2</text>
<text class="ck" transform="translate(405.5 561.4) scale(1.1 1)" text-anchor="middle">−1.6</text>
<text class="ck" transform="translate(429.9 561.4) scale(1.1 1)" text-anchor="middle">−1.2</text>
<text class="ck" transform="translate(454.3 561.4) scale(1.1 1)" text-anchor="middle">−0.8</text>
<text class="ck" transform="translate(478.7 561.4) scale(1.1 1)" text-anchor="middle">−0.4</text>
<text class="ck" transform="translate(502.7 561.4) scale(1.1 1)" text-anchor="middle">0</text>
<text class="ck" transform="translate(527.1 561.4) scale(1.1 1)" text-anchor="middle">0.4</text>
<text class="ck" transform="translate(551.5 561.4) scale(1.1 1)" text-anchor="middle">0.8</text>
<text class="ck" transform="translate(575.9 561.4) scale(1.1 1)" text-anchor="middle">1.2</text>
<text class="ck" transform="translate(600.3 561.4) scale(1.1 1)" text-anchor="middle">1.6</text>
<text class="ck" transform="translate(624.7 561.4) scale(1.1 1)" text-anchor="middle">2</text>
<text class="un" x="638.9" y="563.2">10<tspan class="sup" dy="-6.3">-4</tspan><tspan dy="6.3">kg m</tspan><tspan class="sup" dy="-6.3">-4</tspan></text>
<!-- panel e -->
<clipPath id="cpe"><rect x="46" y="597.3" width="259.1" height="207.9"/></clipPath>
<g clip-path="url(#cpe)" shape-rendering="geometricPrecision">
<rect x="46" y="597.3" width="259.1" height="207.9" fill="#c8f0f0"/>
<path fill="#f0f0c8" d="M124.3 814.6L124.3 717.8L126.8 717.8L126.8 703.5L129.3 703.5L129.3 679.8L131.8 679.8L131.8 648.6L129.8 648.6L129.8 628.7L126.1 628.7L126.1 622.4L121.1 622.4L121.1 618.7L116.1 618.7L116.1 607.5L118.6 607.5L118.6 602L129.8 602L129.8 599.5L233.7 598.9L233.7 600.8L229.8 602.7L224.7 606.6L224.7 610.4L225.4 616.2L225.4 622L228.6 622L228.6 625.8L232.4 625.8L232.4 633.5L235 633.5L235 642.5L232.4 642.5L232.4 654.1L235 654.1L235 702L234.9 717.8L230.4 717.8L230.4 754.7L232.9 754.7L232.9 775.9L234.9 775.9L234.9 799.6L242.4 799.6L242.4 814.6Z"/>
<path fill="#f0a078" d="M132.3 607.6C133.1 606.8 135 604.3 137.3 603.2C139.6 602 141.9 601.2 146.1 600.6C150.3 600.1 155.5 600 162.4 599.8C169.3 599.6 180.2 599.4 187.5 599.4C194.8 599.4 201.9 599.6 206.3 600C210.7 600.4 212.2 600.9 213.9 601.9C215.5 602.9 216.5 604.6 216.4 606.2C216.3 607.7 213.9 609.6 213.2 611.3C212.6 613 211.5 614.1 212.4 616.2C213.3 618.3 217.5 621.1 218.6 623.8C219.8 626.5 220 629.3 219.4 632.4C218.8 635.5 217 639.6 214.9 642.3C212.7 645.1 209 646.6 206.3 649C203.7 651.4 201.7 654.6 198.8 656.5C195.9 658.4 191.5 658.9 188.8 660.3C186 661.6 184.6 663.7 182.5 664.7C180.4 665.6 177.2 665.7 176.2 665.9C175.2 665.2 172.2 663.7 169.9 661.5C167.6 659.3 165.1 655.9 162.4 652.8C159.7 649.6 156.5 646.1 153.6 642.7C150.7 639.4 147.1 635.8 144.8 632.7C142.5 629.5 140.8 626.5 139.8 623.9C138.7 621.3 139.2 619.1 138.5 617C137.9 614.9 137.1 612.9 136 611.3C135 609.8 132.9 608.2 132.3 607.6Z"/>
<path fill="#f07864" d="M140.4 606.9C140.9 606.4 141.4 604.7 143.6 603.8C145.8 602.8 149.4 601.9 153.6 601.3C157.8 600.7 163 600.4 168.7 600.3C174.3 600.1 181.6 600.1 187.5 600.3C193.4 600.4 200.1 600.5 203.8 601C207.6 601.5 208.7 602.2 210.1 603.2C211.5 604.1 212.5 605.2 212.4 606.6C212.3 607.9 210.7 609.9 209.5 611.3C208.3 612.7 206.3 613.9 205.1 615.1C203.8 616.2 201.7 617.2 201.9 618.2C202.1 619.3 204.7 619.9 206.3 621.4C208 622.8 211.1 625.3 212 627C212.8 628.7 212.3 629.8 211.4 631.4C210.4 633 208.4 634.8 206.3 636.4C204.2 638.1 201.9 640.1 198.8 641.5C195.7 642.8 191.1 643.9 187.5 644.6C183.9 645.3 180.6 646 177.5 645.8C174.3 645.7 171.6 645.1 168.7 644C165.7 642.8 162.8 641 159.9 638.9C156.9 636.8 153.3 633.9 151.1 631.4C148.9 628.9 147.3 626.1 146.7 623.9C146.1 621.7 147.6 620.1 147.3 618.2C147 616.3 146 614.5 144.8 612.6C143.7 610.7 141.1 607.9 140.4 606.9Z"/>
<path fill="#f05050" d="M146.1 606.9C146.7 606.4 147.1 604.7 149.8 603.8C152.6 602.9 157.2 602 162.4 601.5C167.6 601.1 174.9 601 181.2 601C187.5 601.1 195.7 601.2 200.1 601.9C204.4 602.6 206.5 603.9 207.6 605C208.6 606.2 207.4 607.6 206.3 608.8C205.3 610.1 203.2 611.3 201.3 612.6C199.4 613.8 195.7 615.1 195 616.3C194.4 617.6 196.2 618.9 197.5 620.1C198.9 621.4 201.7 622.6 203.2 623.9C204.7 625.1 206 626.4 206.3 627.6C206.6 628.9 206.5 630.2 205.1 631.4C203.6 632.7 200.5 634.1 197.5 635.2C194.6 636.2 190.8 637.2 187.5 637.7C184.1 638.2 180.6 638.5 177.5 638.3C174.3 638.1 171.6 637.6 168.7 636.4C165.7 635.3 162.2 633.2 159.9 631.4C157.6 629.6 155.5 627.6 154.9 625.8C154.2 623.9 155.6 621.7 156.1 620.1C156.6 618.5 158.6 617.8 158 616.3C157.4 614.9 154.3 612.9 152.3 611.3C150.4 609.8 147.1 607.7 146.1 606.9Z"/>
<path fill="#f01414" d="M153 606.9C153.5 606.5 153.5 605.1 156.1 604.4C158.7 603.7 163.4 602.9 168.7 602.5C173.9 602.2 182.3 602.1 187.5 602.3C192.7 602.4 197.2 602.9 200.1 603.5C202.9 604.2 204.2 605.2 204.4 606.3C204.7 607.4 203.1 608.9 201.3 610.1C199.5 611.2 196.3 612.2 193.8 613.2C191.3 614.3 186.9 615.1 186.2 616.3C185.6 617.6 188.1 619.3 190 620.7C191.9 622.2 196.2 623.9 197.5 625.1C198.9 626.4 199.2 627.2 198.2 628.3C197.1 629.4 194.5 630.8 191.3 631.7C188 632.5 182.5 633.3 178.7 633.3C174.9 633.3 171.4 632.4 168.7 631.4C165.9 630.5 163.7 629 162.4 627.6C161 626.3 159.9 624.6 160.5 623.2C161.1 621.9 164.6 620.6 166.2 619.5C167.7 618.3 170.3 617.5 169.9 616.3C169.5 615.2 165.9 613.6 163.6 612.6C161.3 611.5 157.9 611 156.1 610.1C154.3 609.1 153.5 607.5 153 606.9Z"/>
<path fill="#f00000" d="M160.5 606.3C161.9 605.9 165.2 604.3 168.7 603.8C172.1 603.3 177 603.2 181.2 603.2C185.4 603.2 190.7 603.3 193.8 603.8C196.8 604.3 199 605.4 199.4 606.3C199.8 607.2 198.3 608.5 196.3 609.4C194.3 610.4 190 611.1 187.5 611.9C185 612.8 182.3 613.4 181.2 614.5C180.2 615.5 180.4 617.2 181.2 618.2C182.1 619.3 184.1 619.7 186.2 620.7C188.3 621.8 192.1 623.5 193.8 624.5C195.4 625.6 196.7 626.2 196.3 627C195.9 627.9 193.8 628.8 191.3 629.5C188.8 630.2 184.4 631.1 181.2 631.2C178.1 631.3 174.9 630.8 172.4 630.2C169.9 629.5 166.8 628.2 166.2 627C165.5 625.9 167.5 624.6 168.7 623.2C169.8 621.9 172.3 620.2 173.1 618.9C173.8 617.5 174 616.2 173.1 615.1C172.1 613.9 169.2 612.9 167.4 611.9C165.6 611 163.5 610.4 162.4 609.4C161.2 608.5 160.8 606.8 160.5 606.3Z"/>
<path fill="#78a0ee" d="M43.7 600.6C44.2 600.6 39.8 600.6 46.3 600.6C52.7 600.6 72.8 600.5 82.7 600.6C92.5 600.8 100.3 601.1 105.3 601.5C110.2 601.9 110.8 602.5 112.2 603.2C113.5 603.9 113.2 605.3 113.4 605.7C112.5 606.1 110.2 607.5 107.8 608.2C105.4 608.9 100.6 609.3 99 610.1C97.4 610.8 98.3 611.6 98.4 612.6C98.5 613.5 98.7 614.8 99.6 615.7C100.6 616.7 102 617.4 104 618.2C106 619.1 109 619.6 111.5 620.7C114.1 621.9 117.5 623.9 119.1 625.1C120.6 626.4 121.2 627 121 628.3C120.7 629.5 119.2 631.1 117.8 632.7C116.5 634.2 114.9 635.9 112.8 637.7C110.7 639.5 108.2 641.6 105.3 643.3C102.3 645.1 98.6 646.9 95.2 648.4C91.9 649.8 88.3 651.2 85.2 652.1C82 653 79.3 653.6 76.4 653.8C73.5 653.9 70.7 653.1 67.6 653C64.5 652.9 61.1 652.9 57.6 653C54 653.1 48.6 653.6 46.3 653.8C44 653.9 44.2 653.8 43.7 653.8L43.7 600.6Z"/>
<path fill="#6478ee" d="M43.7 603.2C44.2 603.2 39.8 603.2 46.3 603.2C52.7 603.1 74.5 602.6 82.7 602.8C90.8 602.9 92.8 603.6 95.2 604C97.6 604.5 96.8 605.4 97.1 605.7C96.4 606 95.1 607.1 92.7 607.6C90.3 608 90.8 608.4 82.7 608.6C74.5 608.7 50.2 608.6 43.7 608.6L43.7 603.2Z"/>
<path fill="#6478ee" d="M43.7 617.3C44.2 617.3 44 617.3 46.3 617.3C48.6 617.4 53.6 617.5 57.6 617.6C61.5 617.7 65.9 617.9 70.1 618.2C74.3 618.5 78.5 618.9 82.7 619.5C86.8 620.1 91.7 621.1 95.2 622C98.8 622.9 102 624.1 104 625.1C106.1 626.1 107.5 626.8 107.5 627.9C107.5 628.9 106.1 630.4 104 631.4C102 632.4 98.8 633.2 95.2 633.9C91.7 634.7 86.8 635.4 82.7 635.8C78.5 636.2 74.3 636.4 70.1 636.4C65.9 636.5 61.5 636.3 57.6 636.2C53.6 636.1 48.6 635.9 46.3 635.8C44 635.7 44.2 635.8 43.7 635.8L43.7 617.3Z"/>
<path fill="#5050ee" d="M43.7 621.6C44.2 621.6 44 621.6 46.3 621.6C48.6 621.7 54 621.7 57.6 622C61.1 622.3 64.3 623 67.6 623.2C70.9 623.5 74.5 623.3 77.6 623.6C80.8 623.9 84.4 624.6 86.4 625.1C88.5 625.7 90.2 626.4 89.9 627C89.7 627.6 87.4 628.3 85.2 628.9C82.9 629.5 79.5 630.2 76.4 630.4C73.2 630.6 69.5 630.1 66.3 630.2C63.2 630.2 60.9 630.8 57.6 630.8C54.2 630.7 48.6 630 46.3 629.9C44 629.8 44.2 629.9 43.7 629.9L43.7 621.6Z"/>
<path fill="#78a0ee" d="M233.1 605.3C233.8 604.8 234.9 603.4 237.6 602.7C240.2 602.1 244 601.7 249.1 601.4C254.3 601.1 258.8 600.9 268.4 600.8C278 600.7 300.5 600.8 306.9 600.8L306.9 609.1C300.5 609.1 279.1 608.9 268.4 609.1C257.7 609.3 248.3 610.6 242.7 610.4C237.1 610.2 236.6 608.7 235 607.8C233.4 607 233.4 605.7 233.1 605.3Z"/>
<path fill="#6478ee" d="M240.1 605.9C241.6 605.6 244.4 604.5 249.1 604C253.8 603.5 258.8 603.3 268.4 603C278 602.6 300.5 602.2 306.9 602.1L306.9 608.5C300.5 608.5 278 608.5 268.4 608.5C258.8 608.5 253.8 608.9 249.1 608.5C244.4 608.1 241.6 606.3 240.1 605.9Z"/>
<path fill="#5050ee" d="M268.4 605C270.5 604.8 274.8 604.3 281.2 604C287.7 603.7 302.6 603.5 306.9 603.4L306.9 607.8C300.9 607.8 277.4 608.3 271 607.8C264.5 607.4 268.8 605.5 268.4 605Z"/>
<path fill="#78a0ee" d="M225.4 618.8C225.9 618.3 226.7 617.1 228.6 616.2C230.4 615.3 231.8 614.6 236.3 613.6C240.8 612.7 243.8 611.2 255.5 610.4C267.3 609.7 298.4 609.3 306.9 609.1L306.9 652.2C306.5 652.4 305.6 652.8 304.4 653.5C303.1 654.1 300.9 655.4 299.2 656C297.5 656.6 296.4 657.1 294.1 656.9C291.7 656.7 288.3 655.5 285.1 654.7C281.9 653.9 278.2 653.3 274.8 652.2C271.4 651 267.7 649.5 264.5 647.7C261.3 645.9 258.5 643.4 255.5 641.2C252.5 639.1 249.5 637 246.5 634.8C243.6 632.7 240.3 630.4 237.6 628.4C234.8 626.4 231.9 624.2 229.8 622.6C227.8 621 226.1 619.4 225.4 618.8Z"/>
<path fill="#6478ee" d="M237.6 620.7C238.4 620.3 239.7 618.8 242.7 618.1C245.7 617.5 250.2 617.1 255.5 616.8C260.9 616.6 266.2 616.5 274.8 616.6C283.4 616.7 301.6 617.3 306.9 617.5L306.9 638C304.4 637.9 296.2 637.9 291.5 637.4C286.8 636.9 282.9 635.8 278.7 634.8C274.4 633.9 270.1 632.8 265.8 631.6C261.5 630.4 256.8 629 253 627.8C249.1 626.5 245.3 625.1 242.7 623.9C240.1 622.7 238.4 621.2 237.6 620.7Z"/>
<path fill="#5050ee" d="M267.1 624.8C268.4 624.4 271.4 623.1 274.8 622.6C278.2 622.1 282.3 621.8 287.7 621.7C293 621.6 303.7 621.9 306.9 622L306.9 631.6C304.8 631.5 297.7 631.3 294.1 631C290.4 630.6 288.3 630.1 285.1 629.4C281.9 628.8 277.8 627.9 274.8 627.1C271.8 626.3 268.4 625.2 267.1 624.8Z"/>
<path fill="#ffffff" stroke="#fff" stroke-width="0.5" d="M124.3 814.6L124.3 717.8L126.8 717.8L126.8 703.5L129.3 703.5L129.3 679.8L131.8 679.8L131.8 648.6L129.8 648.6L129.8 628.7L126.1 628.7L126.1 622.4L121.1 622.4L121.1 618.7L116.1 618.7L116.1 607.5L118.6 607.5L118.6 602L129.8 602L129.8 599.5L139.8 599.5L134.8 601.2L129.8 603.7L125.3 606.2L125.3 616.2L129.8 616.2L129.8 621.2L134.3 621.2L134.3 627.4L136.8 627.4L136.8 648.6L138.6 648.6L138.6 679.8L136.8 679.8L136.8 703.5L134.3 703.5L134.3 717.8L131.8 717.8L131.8 734.7L129.3 734.7L129.3 799.6L131.1 799.6L131.1 814.6Z"/>
<path fill="#ffffff" stroke="#fff" stroke-width="0.5" d="M233.7 598.9L233.7 600.8L229.8 602.7L224.7 606.6L224.7 610.4L225.4 616.2L225.4 622L228.6 622L228.6 625.8L232.4 625.8L232.4 633.5L235 633.5L235 642.5L232.4 642.5L232.4 654.1L235 654.1L235 702L234.9 717.8L230.4 717.8L230.4 754.7L232.9 754.7L232.9 775.9L234.9 775.9L234.9 799.6L242.4 799.6L242.4 814.6L224.9 814.6L224.9 799.6L224.4 799.6L224.4 775.9L222.4 775.9L222.4 703.5L224.9 703.5L225.4 702L225.4 690.1L226.6 690.1L226.6 661.8L225.4 661.8L225.4 646.4L227.3 646.4L227.3 633.5L224.7 633.5L224.7 624.5L220.9 624.5L220.9 619.4L217.6 619.4L215.1 617.5L218.9 613L218.9 607.8L220.2 602.7L222.1 599.5L224.7 598.9Z"/>
<path fill="none" stroke="#000" stroke-width="2.8" stroke-linecap="butt" d="M43.4 608.8C49.9 608.8 72.3 608.6 82.3 608.8C92.2 609 96.7 609.3 103 609.8C109.3 610.3 115.1 611 119.8 611.8C124.6 612.6 127.5 613.5 131.5 614.6C135.5 615.7 139.9 617.3 144.1 618.6C148.3 620 153.3 621.6 156.6 622.6C160 623.6 162.2 624 164.1 624.4C166.1 624.9 167 625 168.3 625.1C169.5 625.3 170.5 625.4 171.7 625.3C172.8 625.3 173.8 625.3 175 625C176.3 624.7 177.6 624.3 179.2 623.8C180.7 623.3 181.7 622.9 184.2 622C186.7 621.1 190.4 619.6 194.2 618.4C198 617.2 203 615.8 206.9 614.9C210.8 614 213.2 613.4 217.5 612.8C221.8 612.1 226.9 611.7 232.6 611.1C238.2 610.5 245.2 609.8 251.5 609.4C257.8 609 264 608.6 270.4 608.4C276.7 608.2 283.3 608.1 289.6 608.3C295.8 608.5 304.7 609.3 307.7 609.5"/>
</g>
<rect x="46" y="597.3" width="259.1" height="207.9" fill="none" stroke="#000" stroke-width="0.8"/>
<path d="M46 597.3V805.2H305.1" fill="none" stroke="#000" stroke-width="1.2" stroke-linecap="square"/>
<path d="M46 805.2v3.2M71.9 805.2v3.2M97.8 805.2v3.2M123.7 805.2v3.2M149.6 805.2v3.2M175.6 805.2v3.2M201.5 805.2v3.2M227.4 805.2v3.2M253.3 805.2v3.2M279.2 805.2v3.2M305.1 805.2v3.2M46 597.3h-3.2M46 627h-3.2M46 656.7h-3.2M46 686.4h-3.2M46 716.1h-3.2M46 745.8h-3.2M46 775.5h-3.2M46 805.2h-3.2" stroke="#000" stroke-width="1" fill="none"/>
<text class="tk" transform="translate(48.6 817.4) scale(0.95 1)" text-anchor="middle">−50</text>
<text class="tk" transform="translate(74.5 817.4) scale(0.95 1)" text-anchor="middle">−40</text>
<text class="tk" transform="translate(100.4 817.4) scale(0.95 1)" text-anchor="middle">−30</text>
<text class="tk" transform="translate(126.3 817.4) scale(0.95 1)" text-anchor="middle">−20</text>
<text class="tk" transform="translate(152.2 817.4) scale(0.95 1)" text-anchor="middle">−10</text>
<text class="tk" transform="translate(177.8 817.4) scale(0.95 1)" text-anchor="middle">0</text>
<text class="tk" transform="translate(203.7 817.4) scale(0.95 1)" text-anchor="middle">10</text>
<text class="tk" transform="translate(229.6 817.4) scale(0.95 1)" text-anchor="middle">20</text>
<text class="tk" transform="translate(255.5 817.4) scale(0.95 1)" text-anchor="middle">30</text>
<text class="tk" transform="translate(281.4 817.4) scale(0.95 1)" text-anchor="middle">40</text>
<text class="tk" transform="translate(307.3 817.4) scale(0.95 1)" text-anchor="middle">50</text>
<text class="tk" transform="translate(40.6 601) scale(0.9 1)" text-anchor="end">0</text>
<text class="tk" transform="translate(40.6 630.7) scale(0.9 1)" text-anchor="end">100</text>
<text class="tk" transform="translate(40.6 660.4) scale(0.9 1)" text-anchor="end">200</text>
<text class="tk" transform="translate(40.6 690.1) scale(0.9 1)" text-anchor="end">300</text>
<text class="tk" transform="translate(40.6 719.8) scale(0.9 1)" text-anchor="end">400</text>
<text class="tk" transform="translate(40.6 749.5) scale(0.9 1)" text-anchor="end">500</text>
<text class="tk" transform="translate(40.6 779.2) scale(0.9 1)" text-anchor="end">600</text>
<text class="tk" transform="translate(40.6 808.9) scale(0.9 1)" text-anchor="end">700</text>
<text class="lt" x="46.3" y="593.3">e</text>
<text class="tt" x="58.5" y="593" textLength="244" lengthAdjust="spacingAndGlyphs">Temperature Contribution (SPEAR_LO)</text>
<text class="tt" x="131.1" y="830" textLength="92.4" lengthAdjust="spacingAndGlyphs">Lead/lag year</text>
<text class="tt" transform="translate(12.3 702.5) rotate(-90)" x="-33.7" y="0" textLength="67.5" lengthAdjust="spacingAndGlyphs">Depth (m)</text>
<path d="M29 839.9L53.6 835.2V844.6Z" fill="#0000f2" stroke="#000" stroke-opacity="0.9" stroke-width="0.8" stroke-linejoin="miter"/>
<rect x="53.6" y="835.2" width="24.4" height="9.4" fill="#3a32ee"/>
<rect x="78" y="835.2" width="24.4" height="9.4" fill="#5050ee"/>
<rect x="102.3" y="835.2" width="24.4" height="9.4" fill="#6478ee"/>
<rect x="126.7" y="835.2" width="24.4" height="9.4" fill="#78a0ee"/>
<rect x="151" y="835.2" width="24.4" height="9.4" fill="#c8f0f0"/>
<rect x="175.3" y="835.2" width="24.4" height="9.4" fill="#f0f0c8"/>
<rect x="199.7" y="835.2" width="24.4" height="9.4" fill="#f0a078"/>
<rect x="224.1" y="835.2" width="24.4" height="9.4" fill="#f07864"/>
<rect x="248.4" y="835.2" width="24.4" height="9.4" fill="#f05050"/>
<rect x="272.8" y="835.2" width="24.4" height="9.4" fill="#f01414"/>
<path d="M322.9 839.9L297.1 835.2V844.6Z" fill="#f00000" stroke="#000" stroke-opacity="0.9" stroke-width="0.8" stroke-linejoin="miter"/>
<path d="M53.6 835.2H297.1M53.6 844.6H297.1M53.6 835.2V844.6M78 835.2V844.6M102.3 835.2V844.6M126.7 835.2V844.6M151 835.2V844.6M175.3 835.2V844.6M199.7 835.2V844.6M224.1 835.2V844.6M248.4 835.2V844.6M272.8 835.2V844.6M297.1 835.2V844.6" stroke="#000" stroke-width="0.9" fill="none"/>
<text class="ck" transform="translate(54.3 852.4) scale(1.1 1)" text-anchor="middle">−2</text>
<text class="ck" transform="translate(78.7 852.4) scale(1.1 1)" text-anchor="middle">−1.6</text>
<text class="ck" transform="translate(103 852.4) scale(1.1 1)" text-anchor="middle">−1.2</text>
<text class="ck" transform="translate(127.4 852.4) scale(1.1 1)" text-anchor="middle">−0.8</text>
<text class="ck" transform="translate(151.7 852.4) scale(1.1 1)" text-anchor="middle">−0.4</text>
<text class="ck" transform="translate(175.7 852.4) scale(1.1 1)" text-anchor="middle">0</text>
<text class="ck" transform="translate(200 852.4) scale(1.1 1)" text-anchor="middle">0.4</text>
<text class="ck" transform="translate(224.4 852.4) scale(1.1 1)" text-anchor="middle">0.8</text>
<text class="ck" transform="translate(248.7 852.4) scale(1.1 1)" text-anchor="middle">1.2</text>
<text class="ck" transform="translate(273.1 852.4) scale(1.1 1)" text-anchor="middle">1.6</text>
<text class="ck" transform="translate(297.4 852.4) scale(1.1 1)" text-anchor="middle">2</text>
<text class="un" x="306.3" y="854.5">10<tspan class="sup" dy="-6.3">-4</tspan><tspan dy="6.3">kg m</tspan><tspan class="sup" dy="-6.3">-4</tspan></text>
<!-- panel f -->
<clipPath id="cpf"><rect x="373.3" y="597.8" width="259.1" height="207.9"/></clipPath>
<g clip-path="url(#cpf)" shape-rendering="geometricPrecision">
<rect x="373.3" y="597.8" width="259.1" height="207.9" fill="#f0f0c8"/>
<path fill="#c8f0f0" d="M427.4 814.6L427.4 799.6L429.9 799.6L429.9 775.9L432.4 775.9L432.4 754.7L435.6 754.7L435.6 735.2L440.6 735.2L440.6 717.8L445.6 717.8L445.6 703.5L448.1 703.5L448.3 691L450.8 691L450.8 680.4L453.6 680.4L453.6 670.3L456.1 670.3L456.1 627.6L454.9 625.8L452.4 623.2L447.3 620.7L442.3 618.2L437.3 615.7L432.3 613.8L434.6 613.6L440.3 611.1L447.9 607.9L455.5 604.9L463.1 601.6L471.6 597.3L471.6 595L582.5 595L582.5 600.8L573.5 601.2L563.3 604L551.7 608.5L544 613L541.4 618.8L544 620.7L547.9 622.6L551.7 625.8L554.3 629L554.3 638.7L554.9 638.7L554.9 649L557.5 649L557.5 655.4L560.1 655.4L560.1 661.8L562 661.8L562 679.8L560.1 679.8L560.1 702L559.4 703.5L557.4 703.5L557.4 717.8L551.9 717.8L551.9 735.2L549.4 735.2L549.4 754.7L546.9 754.7L546.9 799.6L548.9 799.6L548.9 814.6Z"/>
<path fill="#78a0ee" d="M480 595C480 595.5 481.5 597 480 598.1C478.4 599.3 473.4 600.6 470.6 601.9C467.7 603.2 465.1 604.6 463 605.7C460.9 606.7 459.5 607.6 458 608.2C456.5 608.8 455.2 608.8 454.2 609.4C453.3 610.1 452.2 610.5 452.1 611.9C452 613.4 452.6 617.1 453.6 618.2C454.6 619.4 456.4 617.5 458 618.9C459.6 620.2 461.3 623.5 463 626.4C464.7 629.3 466.4 632.9 468 636.4C469.7 640 471.6 644.2 473.1 647.7C474.5 651.3 476 654 476.8 657.8C477.7 661.5 477.8 666.1 478.1 670.3C478.4 674.5 478.5 678.7 478.7 682.9C478.9 687.1 479 690.1 479.3 695.4C479.6 700.8 479.9 709.5 480.5 714.8C481.1 720.1 481.8 723.7 483 727.2C484.3 730.8 485.9 733.8 488 736C490.1 738.1 492.8 740 495.5 740.2C498.2 740.4 501.7 739 504.5 737.2C507.2 735.5 509.5 733.5 512 729.7C514.5 726 517.4 720.5 519.5 714.8C521.6 709 523.1 700.1 524.5 695.4C526 690.8 527.3 689.8 528.3 686.7C529.4 683.5 530.2 680.2 530.8 676.6C531.4 673 531.7 668.9 532.1 665.3C532.5 661.8 532.7 658.6 533.3 655.3C534 651.9 534.8 648.4 535.8 645.2C536.9 642.1 538.6 638.9 539.6 636.4C540.7 633.9 541.9 632 542.1 630.2C542.3 628.3 541.7 626.8 540.9 625.1C540 623.5 538.1 621.7 537.1 620.1C536 618.5 533.4 617.5 534.6 615.7C535.7 613.9 541.1 611.1 544 609.4C546.9 607.7 549.1 606.8 551.7 605.5C554.3 604.3 556.7 603.2 559.4 601.9C562.2 600.7 566.7 599.2 568.2 598.1C569.7 596.9 568.4 595.5 568.4 595L480 595Z"/>
<path fill="#6478ee" d="M479.6 595C479.6 595.5 481.1 597.1 479.6 598.1C478.1 599.2 473.4 599.7 470.6 601.3C467.7 602.8 463 604.6 462.4 607.6C461.8 610.5 464.8 614.7 466.8 618.9C468.8 623 471.8 628.5 474.3 632.7C476.8 636.8 479.3 640.8 481.9 644C484.4 647.1 486.9 649.2 489.4 651.5C491.9 653.8 494.6 656.7 496.9 657.8C499.2 658.8 500.7 658.4 503.2 657.8C505.7 657.1 508.8 655.9 512 654C515.1 652.1 518.9 649.2 522 646.5C525.2 643.8 528.3 640.6 530.8 637.7C533.3 634.8 535.9 631.4 537.1 628.9C538.2 626.4 538.4 624.4 537.7 622.6C537.1 620.8 533.2 619.9 533.3 618.2C533.4 616.6 536.6 614.4 538.4 612.6C540.1 610.8 541.8 608.9 544 607.6C546.2 606.2 549.1 605.4 551.7 604.2C554.3 603.1 556.7 602 559.4 600.9C562.1 599.8 566.3 598.8 567.8 597.8C569.2 596.8 568 595.5 568 595L479.6 595Z"/>
<path fill="#5050ee" d="M479.5 595C479.5 595.5 480.3 597.2 479.5 598.1C478.6 599.1 476.5 599.1 474.3 600.6C472.1 602.2 466.8 604.7 466.2 607.6C465.5 610.4 468.6 613.8 470.6 617.6C472.5 621.4 475.4 626.6 478.1 630.2C480.8 633.7 483.7 636.5 486.9 638.9C490 641.3 494 643.7 496.9 644.6C499.8 645.5 501.5 645.1 504.5 644.6C507.4 644.1 511.1 643 514.5 641.5C517.8 639.9 521.4 637.5 524.5 635.2C527.7 632.9 531.7 629.8 533.3 627.6C535 625.4 535 623.7 534.6 622C534.2 620.3 530.4 619.4 530.8 617.6C531.2 615.8 534.9 613.4 537.1 611.3C539.3 609.3 541.6 606.7 544 605.3C546.4 603.9 549.1 603.6 551.7 602.7C554.3 601.8 556.8 601 559.4 600.1C562 599.3 565.8 598.7 567.1 597.8C568.5 597 567.4 595.5 567.5 595L479.5 595Z"/>
<path fill="#3a32ee" d="M479.3 595C479.3 595.5 479.8 597.3 479.3 598.1C478.9 599 478.4 598.5 476.8 600C475.3 601.6 470.3 604.6 469.9 607.6C469.5 610.5 472.5 614.3 474.3 617.6C476.1 620.9 478.1 624.7 480.6 627.6C483.1 630.6 486.2 633.3 489.4 635.2C492.5 637.1 495.9 638.6 499.4 638.9C503 639.3 507.2 638.1 510.7 637.1C514.3 636 517.6 634.4 520.8 632.7C523.9 630.9 527.8 628.3 529.6 626.4C531.3 624.5 531.7 622.9 531.4 621.4C531.2 619.8 527.8 618.6 528.3 617C528.8 615.3 532.5 613.3 534.6 611.3C536.7 609.3 539.3 606.5 540.9 605C542.4 603.6 542.2 603.2 544 602.5C545.8 601.9 549.1 601.7 551.7 601.2C554.3 600.6 557 599.9 559.4 599.4C561.9 598.8 565.2 598.6 566.5 597.8C567.7 597.1 566.8 595.5 566.9 595L479.3 595Z"/>
<path fill="#0000f2" d="M479.3 595C479.3 595.5 480.1 596.7 479.3 598.1C478.6 599.6 476 602 474.9 603.8C473.9 605.6 472.8 606.7 473.1 608.8C473.4 610.9 475.2 613.5 476.8 616.3C478.5 619.2 480.4 623 483.1 625.8C485.8 628.5 490.2 631.2 493.2 632.7C496.1 634.1 497.8 634.5 500.7 634.5C503.6 634.5 507.4 633.7 510.7 632.7C514.1 631.6 518.2 629.7 520.8 628.3C523.4 626.8 525.2 625.2 526.4 623.9C527.6 622.5 528.2 621.4 528.1 620.1C528 618.9 525.1 617.8 525.8 616.3C526.5 614.9 530 613.1 532.1 611.3C534.2 609.5 536.4 607.5 538.4 605.7C540.3 603.8 541.8 601.3 544 600.3C546.2 599.3 549.1 599.9 551.7 599.6C554.3 599.3 557.1 598.9 559.4 598.6C561.8 598.3 564.7 598.4 565.8 597.8C567 597.2 566.1 595.5 566.1 595L479.3 595Z"/>
<path fill="#f0a078" d="M371.1 595L471.6 595C471.5 595.4 472.8 596.5 471.1 597.7C469.3 598.9 464.4 600.8 461.2 602.2C458 603.7 454.5 605.1 451.7 606.4C448.9 607.7 446.5 608.5 444.1 609.8C441.7 611.1 438.6 613.3 437.5 614L371.1 614L371.1 595Z"/>
<path fill="#f07864" d="M371.1 595L467.8 595C467.7 595.4 468.9 596.5 466.9 597.7C464.8 598.8 459.3 600.3 455.5 601.6C451.7 602.9 447.6 604.2 444.1 605.4C440.6 606.7 437.3 607.8 434.6 609.2C431.9 610.7 429.1 613.2 428 614L371.1 614L371.1 595Z"/>
<path fill="#f05050" d="M371.1 595L463.1 595C462.8 595.5 463.7 597 461.2 598C458.7 599.1 452.3 600.3 447.9 601.5C443.5 602.6 438.4 603.7 434.6 604.9C430.8 606.1 427.8 607.1 425.1 608.7C422.4 610.2 419.6 613.1 418.5 614L371.1 614L371.1 595Z"/>
<path fill="#f07864" d="M375.1 603.2C375.3 602.5 376.9 601.6 379.5 601.3C382.1 600.9 387.9 600.9 390.8 601C393.8 601.2 396.3 601.7 397.1 602.3C397.9 602.8 397.5 603.9 395.9 604.4C394.2 604.9 390 605.2 387.1 605.3C384.1 605.4 380.3 605.4 378.3 605C376.3 604.7 374.9 603.8 375.1 603.2Z"/>
<path fill="#f01414" d="M370.7 595L472.4 595L472.4 598L458 600.3L422.2 601L370.7 601Z"/>
<path fill="#f00000" d="M370.7 595L472.4 595L472.4 597.8L458 599.8L422.2 600.3L370.7 600.3Z"/>
<path fill="#f0a078" d="M370.7 608.2C377.2 608.2 400 608.1 409.7 608.6C419.3 609 424.7 609.8 428.5 610.7C432.3 611.6 430.4 612.6 432.3 613.8C434.1 615.1 437.3 616.7 439.8 618.2C442.3 619.8 445.6 621.7 447.3 623.2C449.1 624.8 450.5 626.1 450.5 627.6C450.5 629.2 449.1 630.9 447.3 632.7C445.6 634.4 442.3 636.4 439.8 638.3C437.3 640.2 434.4 641.8 432.3 644C430.2 646.2 428.5 648.8 427.2 651.5C426 654.2 425.3 657.1 424.7 660.3C424.2 663.4 424.3 667 424.1 670.3C423.9 673.7 424.2 677.2 423.5 680.4C422.7 683.5 421.4 686.7 419.7 689.2C418 691.7 415.9 693.8 413.4 695.4C410.9 697.1 407.8 698.5 404.6 699.2C401.5 699.9 397.5 699.4 394.6 699.8C391.7 700.3 388.5 701.6 387.1 702C385.6 702.3 387 702.1 385.7 701.8C384.5 701.4 381.5 700.7 379.5 699.8C377.4 698.8 375.2 696.9 373.5 696C371.8 695.2 370.2 695 369.5 694.8L370.7 608.2Z"/>
<path fill="#f07864" d="M370.7 608.2C377.2 608.2 401.1 608.2 409.7 608.6C418.2 608.9 419.9 609.5 422.2 610.1C424.5 610.6 422.8 611.1 423.5 611.9C424.1 612.8 424.7 614 426 615.1C427.2 616.1 429.3 617 431 618.2C432.7 619.5 434.9 621.2 436 622.6C437.2 624.1 438.1 625.7 437.9 627C437.7 628.4 436.6 629.5 434.8 630.8C433 632 430.4 633.3 427.2 634.5C424.1 635.8 419.9 637.3 415.9 638.3C412 639.4 408.2 640.2 403.4 640.8C398.6 641.5 392 641.9 387.1 642.1C382.1 642.3 376.2 642.1 373.5 642.1C370.8 642.1 371.2 642.1 370.7 642.1L370.7 608.2Z"/>
<path fill="#f05050" d="M370.7 608.2C377.2 608.2 402.4 608.1 409.7 608.6C416.9 609 413.2 610 414.1 610.7C414.9 611.4 414.2 611.7 414.7 612.6C415.2 613.4 415.9 614.7 417.2 615.7C418.5 616.8 420.5 617.6 422.2 618.9C423.9 620.1 426.4 621.9 427.2 623.2C428.1 624.6 428.1 625.9 427.2 627C426.4 628.2 424.3 629.3 422.2 630.2C420.1 631 417.8 631.5 414.7 632C411.5 632.6 408 633.1 403.4 633.3C398.8 633.5 392 633.4 387.1 633.3C382.1 633.2 376.2 632.8 373.5 632.7C370.8 632.6 371.2 632.7 370.7 632.7L370.7 608.2Z"/>
<path fill="#f01414" d="M370.7 616.3C371.2 616.4 371.2 616.3 373.5 616.6C375.8 616.9 381 617.6 384.6 618.2C388.1 618.8 391.5 619.8 394.6 620.1C397.7 620.4 400.5 619.8 403.4 620.1C406.3 620.4 410 621.2 412.2 622C414.4 622.8 416.4 624.1 416.6 625.1C416.8 626.2 415.6 627.5 413.4 628.3C411.2 629.1 407.2 629.7 403.4 629.9C399.6 630.1 394.8 629.5 390.8 629.5C386.9 629.6 382.4 630.1 379.5 630.2C376.6 630.2 375 629.9 373.5 629.9C372 629.9 371.2 629.9 370.7 629.9L370.7 616.3Z"/>
<path fill="#f0a078" d="M551.7 611.1C553.6 610.3 559.6 608.1 563.3 606.6C566.9 605.1 570.3 603.4 573.5 602.1C576.8 600.8 580.9 600 582.5 598.9C584.1 597.7 583.1 595.6 583.2 595L633.9 595L633.9 610.4C625.4 610.5 596.2 611 582.5 611.1C568.8 611.2 556.8 611.1 551.7 611.1Z"/>
<path fill="#f07864" d="M563.3 610.2C564.8 609.3 569.3 606.7 572.3 605.3C575.3 603.8 579.2 602.6 581.3 601.4C583.3 600.2 583.9 599.3 584.5 598.2C585.1 597.1 584.8 595.5 584.9 595L633.9 595L633.9 610.4C625.4 610.5 594.3 610.7 582.5 610.7C570.8 610.6 566.5 610.2 563.3 610.2Z"/>
<path fill="#f05050" d="M573.5 609.4C574.8 608.6 578.9 605.9 581.3 604.6C583.6 603.4 586.2 603.1 587.7 602.1C589.2 601 589.8 599.4 590.2 598.2C590.7 597 590.5 595.5 590.5 595L633.9 595L633.9 609.8C627.5 609.7 605.5 609.5 595.4 609.4C585.3 609.3 577.2 609.4 573.5 609.4Z"/>
<path fill="#f01414" d="M586.4 608.5C587.3 607.7 590 605.1 591.5 604C593 602.9 592.6 602.4 595.4 602.1C598.2 601.7 601.8 602.1 608.2 602.1C614.7 602.1 629.6 602.1 633.9 602.1L633.9 609.1C627.5 609.1 603.3 609 595.4 608.9C587.5 608.8 587.9 608.6 586.4 608.5Z"/>
<path fill="#f00000" d="M583.8 595C583.8 595.5 583.2 596.9 583.8 597.8C584.5 598.7 585.3 599.8 587.7 600.4C590 601 590.2 601 598 601.2C605.7 601.3 627.9 601.2 633.9 601.2L633.9 595L583.8 595Z"/>
<path fill="#f05050" d="M604.4 601.4C604.4 601 608 600.6 610.8 600.4C613.6 600.2 618.5 600.2 621.1 600.4C623.7 600.6 626.2 601 626.2 601.4C626.2 601.8 623.7 602.5 621.1 602.7C618.5 602.9 613.6 602.9 610.8 602.7C608 602.5 604.4 601.8 604.4 601.4Z"/>
<path fill="#f0a078" d="M542.7 614.3C542.9 614.6 543.4 615.1 544 616.2C544.6 617.3 545.1 618.9 546.6 620.7C548.1 622.5 550.6 624.8 553 627.1C555.3 629.5 557.9 631.8 560.7 634.8C563.5 637.8 566.9 641.9 569.7 645.1C572.5 648.3 574.8 651.3 577.4 654.1C580 656.9 583.3 659 585.1 661.8C586.9 664.6 587.4 667.8 588.3 670.8C589.3 673.8 589.7 676.6 590.9 679.8C592.1 683 593.6 687.1 595.4 690.1C597.2 693.1 600.1 696.2 601.8 697.8C603.5 699.4 603.7 698.8 605.5 699.8C607.4 700.8 610.5 702.5 613 703.5C615.5 704.6 618.2 706 620.5 706C622.8 706 624.8 704.6 626.8 703.5C628.7 702.5 630.3 700.8 632 699.8C633.7 698.8 635.9 697.7 636.7 697.3L633.9 607.8C625.4 607.8 595.4 607.3 582.5 607.8C569.7 608.4 563.5 610 556.8 611.1C550.2 612.1 545.1 613.7 542.7 614.3Z"/>
<path fill="#f07864" d="M548.5 616.8C548.5 617.2 547.1 617.5 548.5 618.8C549.9 620.1 553.7 622.6 556.8 624.5C560 626.5 563.3 628.4 567.1 630.3C571 632.3 575.7 634.5 580 636.1C584.3 637.7 588.5 638.8 592.8 640C597.1 641.1 602.2 642.2 605.7 643.2C609.1 644.1 610.8 645 613.4 645.7C615.9 646.5 618.9 647.6 621.1 647.7C623.2 647.8 624.1 647 626.2 646.4C628.4 645.7 632.6 644.2 633.9 643.8L633.9 607.8C625.4 607.8 595.4 607.2 582.5 607.8C569.7 608.5 562.5 610.2 556.8 611.7C551.2 613.2 549.9 616 548.5 616.8Z"/>
<path fill="#f05050" d="M556.2 617.5C556.2 617.8 554.6 618.2 556.2 619.4C557.8 620.6 562.3 622.9 565.8 624.5C569.4 626.2 573.3 627.8 577.4 629C581.5 630.3 586.2 631.3 590.2 632.3C594.3 633.2 597.7 634.1 601.8 634.8C605.9 635.6 611 636.4 614.7 636.8C618.3 637.1 620.4 637.2 623.7 636.8C626.9 636.3 632.2 634.6 633.9 634.2L633.9 607.8C625.4 607.8 594.3 607.1 582.5 607.8C570.8 608.6 567.7 610.7 563.3 612.3C558.9 613.9 557.4 616.6 556.2 617.5Z"/>
<path fill="#f01414" d="M565.8 618.8C565.8 619 564.1 619.2 565.8 620.1C567.6 620.9 572.3 622.7 576.1 623.9C580 625.1 584.7 626.2 589 627.1C593.2 628.1 597.5 628.9 601.8 629.7C606.1 630.4 611 631.3 614.7 631.6C618.3 631.9 620.4 632 623.7 631.6C626.9 631.2 632.2 629.5 633.9 629L633.9 607.8C627.5 607.8 605 607.2 595.4 607.8C585.8 608.5 581 609.9 576.1 611.7C571.2 613.5 567.6 617.6 565.8 618.8Z"/>
<path fill="#f00000" d="M633.9 625.2L633.9 627.8C631.8 627.8 625.4 627.9 621.1 627.8C616.8 627.7 611.9 627.8 608.2 627.1C604.6 626.5 601.4 624.8 599.2 623.9C597.1 623 593.9 622.4 595.4 622C596.9 621.6 604 621.2 608.2 621.3C612.5 621.4 616.8 622 621.1 622.6C625.4 623.3 631.8 624.8 633.9 625.2Z"/>
<path fill="#f05050" d="M633.9 612.1L633.9 619C632.6 618.9 628.1 618.7 626.2 618.1C624.3 617.5 622.4 616.4 622.4 615.6C622.4 614.7 624.3 613.6 626.2 613C628.1 612.4 632.6 612.2 633.9 612.1Z"/>
<path fill="#ffffff" stroke="#fff" stroke-width="0.5" d="M427.4 814.6L427.4 799.6L429.9 799.6L429.9 775.9L432.4 775.9L432.4 754.7L435.6 754.7L435.6 735.2L440.6 735.2L440.6 717.8L445.6 717.8L445.6 703.5L448.1 703.5L448.3 691L450.8 691L450.8 680.4L453.6 680.4L453.6 670.3L456.1 670.3L456.1 627.6L454.9 625.8L452.4 623.2L447.3 620.7L442.3 618.2L437.3 615.7L432.3 613.8L434.6 613.6L440.3 611.1L447.9 607.9L455.5 604.9L463.1 601.6L471.6 597.3L471.6 595L478.6 595L478.3 597.3L470.7 601.6L464 605.4L457.4 609.2L452.6 612.1L454.9 610.1L451.7 611.9L453.6 618.2L458 620.1L461.1 619.5L463.6 623.9L463.6 670.3L459.5 670.3L459.5 691L458.8 691.1L458.8 703.5L453.8 703.5L453.8 717.8L450.6 717.8L450.6 735.2L448.1 735.2L448.1 754.7L440.6 754.7L440.6 775.9L438.1 775.9L438.1 814.6Z"/>
<path fill="#ffffff" stroke="#fff" stroke-width="0.5" d="M568.4 595L568.4 598.2L559.4 602.1L551.7 605.9L544 609.8L538.2 614.3L538.2 619.4L541.4 619.4L541.4 623.9L546.6 623.9L546.6 638.7L547.2 638.7L547.2 655.4L549.8 655.4L549.8 661.8L552.4 661.8L552.4 670.8L554.9 670.8L554.9 679.8L552.4 679.8L552.4 702L551.9 703.5L549.4 703.5L549.4 717.8L544.4 717.8L544.4 735.2L541.9 735.2L541.9 754.7L539.4 754.7L539.4 814.6L548.9 814.6L548.9 799.6L546.9 799.6L546.9 754.7L549.4 754.7L549.4 735.2L551.9 735.2L551.9 717.8L557.4 717.8L557.4 703.5L559.4 703.5L560.1 702L560.1 679.8L562 679.8L562 661.8L560.1 661.8L560.1 655.4L557.5 655.4L557.5 649L554.9 649L554.9 638.7L554.3 638.7L554.3 629L551.7 625.8L547.9 622.6L544 620.7L541.4 618.8L544 613L551.7 608.5L563.3 604L573.5 601.2L582.5 600.8L582.5 595Z"/>
<path fill="none" stroke="#000" stroke-width="2.8" stroke-linecap="butt" d="M370.7 609.3C377.2 609.3 399.6 609.1 409.6 609.3C419.5 609.5 424 609.8 430.3 610.3C436.6 610.8 442.4 611.5 447.1 612.3C451.9 613.1 454.8 614 458.8 615.1C462.8 616.2 467.2 617.8 471.4 619.1C475.6 620.5 480.6 622.1 483.9 623.1C487.3 624.1 489.5 624.5 491.4 624.9C493.4 625.4 494.3 625.5 495.6 625.6C496.8 625.8 497.8 625.9 499 625.8C500.1 625.8 501.1 625.8 502.3 625.5C503.6 625.2 504.9 624.8 506.5 624.3C508 623.8 509 623.4 511.5 622.5C514 621.6 517.7 620.1 521.5 618.9C525.3 617.7 530.3 616.3 534.2 615.4C538.1 614.5 540.5 613.9 544.8 613.2C549.1 612.6 554.2 612.2 559.9 611.6C565.5 611 572.5 610.3 578.8 609.9C585.1 609.5 591.3 609.1 597.7 608.9C604 608.7 610.6 608.6 616.9 608.8C623.1 609 632 609.8 635 610"/>
</g>
<rect x="373.3" y="597.8" width="259.1" height="207.9" fill="none" stroke="#000" stroke-width="0.8"/>
<path d="M373.3 597.8V805.7H632.4" fill="none" stroke="#000" stroke-width="1.2" stroke-linecap="square"/>
<path d="M373.3 805.7v3.2M399.2 805.7v3.2M425.1 805.7v3.2M451 805.7v3.2M476.9 805.7v3.2M502.9 805.7v3.2M528.8 805.7v3.2M554.7 805.7v3.2M580.6 805.7v3.2M606.5 805.7v3.2M632.4 805.7v3.2M373.3 597.8h-3.2M373.3 627.5h-3.2M373.3 657.2h-3.2M373.3 686.9h-3.2M373.3 716.6h-3.2M373.3 746.3h-3.2M373.3 776h-3.2M373.3 805.7h-3.2" stroke="#000" stroke-width="1" fill="none"/>
<text class="tk" transform="translate(375.8 817.9) scale(0.95 1)" text-anchor="middle">−50</text>
<text class="tk" transform="translate(401.7 817.9) scale(0.95 1)" text-anchor="middle">−40</text>
<text class="tk" transform="translate(427.6 817.9) scale(0.95 1)" text-anchor="middle">−30</text>
<text class="tk" transform="translate(453.5 817.9) scale(0.95 1)" text-anchor="middle">−20</text>
<text class="tk" transform="translate(479.4 817.9) scale(0.95 1)" text-anchor="middle">−10</text>
<text class="tk" transform="translate(504.9 817.9) scale(0.95 1)" text-anchor="middle">0</text>
<text class="tk" transform="translate(530.9 817.9) scale(0.95 1)" text-anchor="middle">10</text>
<text class="tk" transform="translate(556.8 817.9) scale(0.95 1)" text-anchor="middle">20</text>
<text class="tk" transform="translate(582.7 817.9) scale(0.95 1)" text-anchor="middle">30</text>
<text class="tk" transform="translate(608.6 817.9) scale(0.95 1)" text-anchor="middle">40</text>
<text class="tk" transform="translate(634.5 817.9) scale(0.95 1)" text-anchor="middle">50</text>
<text class="tk" transform="translate(367.9 601.5) scale(0.9 1)" text-anchor="end">0</text>
<text class="tk" transform="translate(367.9 631.2) scale(0.9 1)" text-anchor="end">100</text>
<text class="tk" transform="translate(367.9 660.9) scale(0.9 1)" text-anchor="end">200</text>
<text class="tk" transform="translate(367.9 690.6) scale(0.9 1)" text-anchor="end">300</text>
<text class="tk" transform="translate(367.9 720.3) scale(0.9 1)" text-anchor="end">400</text>
<text class="tk" transform="translate(367.9 750) scale(0.9 1)" text-anchor="end">500</text>
<text class="tk" transform="translate(367.9 779.7) scale(0.9 1)" text-anchor="end">600</text>
<text class="tk" transform="translate(367.9 809.4) scale(0.9 1)" text-anchor="end">700</text>
<text class="lt" x="374.5" y="593.8">f</text>
<text class="tt" x="390.8" y="593.3" textLength="231.6" lengthAdjust="spacingAndGlyphs">Salinity Contribution (SPEAR_LO)</text>
<text class="tt" x="457.7" y="830.2" textLength="92.4" lengthAdjust="spacingAndGlyphs">Lead/lag year</text>
<path d="M356.9 840.2L381.4 835.3V845.1Z" fill="#0000f2" stroke="#000" stroke-opacity="0.9" stroke-width="0.8" stroke-linejoin="miter"/>
<rect x="381.4" y="835.3" width="24.4" height="9.8" fill="#3a32ee"/>
<rect x="405.8" y="835.3" width="24.4" height="9.8" fill="#5050ee"/>
<rect x="430.2" y="835.3" width="24.4" height="9.8" fill="#6478ee"/>
<rect x="454.6" y="835.3" width="24.4" height="9.8" fill="#78a0ee"/>
<rect x="479" y="835.3" width="24.4" height="9.8" fill="#c8f0f0"/>
<rect x="503.4" y="835.3" width="24.4" height="9.8" fill="#f0f0c8"/>
<rect x="527.8" y="835.3" width="24.4" height="9.8" fill="#f0a078"/>
<rect x="552.2" y="835.3" width="24.4" height="9.8" fill="#f07864"/>
<rect x="576.6" y="835.3" width="24.4" height="9.8" fill="#f05050"/>
<rect x="601" y="835.3" width="24.4" height="9.8" fill="#f01414"/>
<path d="M651.2 840.2L625.4 835.3V845.1Z" fill="#f00000" stroke="#000" stroke-opacity="0.9" stroke-width="0.8" stroke-linejoin="miter"/>
<path d="M381.4 835.3H625.4M381.4 845.1H625.4M381.4 835.3V845.1M405.8 835.3V845.1M430.2 835.3V845.1M454.6 835.3V845.1M479 835.3V845.1M503.4 835.3V845.1M527.8 835.3V845.1M552.2 835.3V845.1M576.6 835.3V845.1M601 835.3V845.1M625.4 835.3V845.1" stroke="#000" stroke-width="0.9" fill="none"/>
<text class="ck" transform="translate(382.1 852.9) scale(1.1 1)" text-anchor="middle">−2</text>
<text class="ck" transform="translate(406.5 852.9) scale(1.1 1)" text-anchor="middle">−1.6</text>
<text class="ck" transform="translate(430.9 852.9) scale(1.1 1)" text-anchor="middle">−1.2</text>
<text class="ck" transform="translate(455.3 852.9) scale(1.1 1)" text-anchor="middle">−0.8</text>
<text class="ck" transform="translate(479.7 852.9) scale(1.1 1)" text-anchor="middle">−0.4</text>
<text class="ck" transform="translate(503.7 852.9) scale(1.1 1)" text-anchor="middle">0</text>
<text class="ck" transform="translate(528.1 852.9) scale(1.1 1)" text-anchor="middle">0.4</text>
<text class="ck" transform="translate(552.5 852.9) scale(1.1 1)" text-anchor="middle">0.8</text>
<text class="ck" transform="translate(576.9 852.9) scale(1.1 1)" text-anchor="middle">1.2</text>
<text class="ck" transform="translate(601.3 852.9) scale(1.1 1)" text-anchor="middle">1.6</text>
<text class="ck" transform="translate(625.7 852.9) scale(1.1 1)" text-anchor="middle">2</text>
<text class="un" x="636.5" y="854.5">10<tspan class="sup" dy="-6.3">-4</tspan><tspan dy="6.3">kg m</tspan><tspan class="sup" dy="-6.3">-4</tspan></text>
</svg>
</body></html>
